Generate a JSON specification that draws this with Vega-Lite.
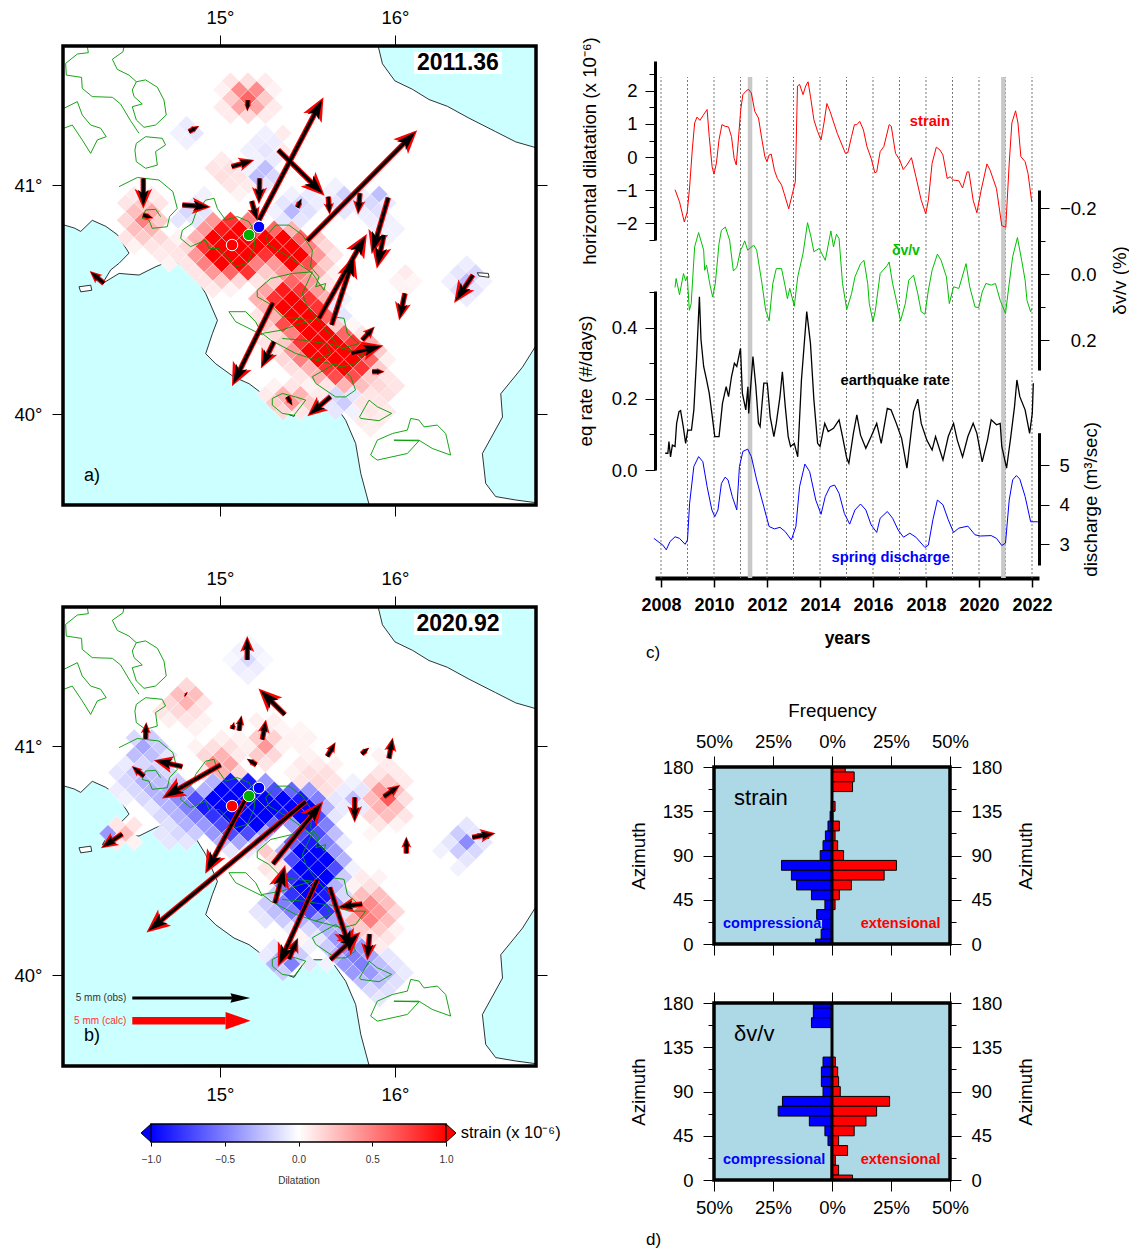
{"$schema":"https://vega.github.io/schema/vega-lite/v6.json","padding":{"left":14,"top":8,"right":0,"bottom":0},"background":"white","config":{"font":"Liberation Sans","view":{"stroke":null},"axis":{"grid":false,"domain":false,"tickColor":"black","labelColor":"black","titleColor":"black","titleFontWeight":"normal","labelFontSize":18.5,"titleFontSize":18.7,"labelOverlap":false,"labelFlush":false}},
"datasets":{
"sea":[{"type":"Feature","geometry":{"type":"Polygon","coordinates":[[[15.899,41.607],[16.806,41.607],[16.806,41.157],[16.69,41.182],[16.575,41.226],[16.423,41.284],[16.299,41.335],[16.194,41.364],[16.099,41.408],[15.999,41.444],[15.928,41.517],[15.899,41.607]]]}},{"type":"Feature","geometry":{"type":"Polygon","coordinates":[[[14.103,40.825],[14.166,40.811],[14.204,40.796],[14.27,40.844],[14.347,40.818],[14.413,40.782],[14.48,40.702],[14.423,40.658],[14.375,40.629],[14.328,40.57],[14.423,40.614],[14.537,40.607],[14.632,40.643],[14.728,40.672],[14.842,40.621],[14.918,40.527],[14.985,40.41],[14.956,40.352],[14.918,40.265],[14.975,40.221],[15.08,40.163],[15.166,40.134],[15.242,40.09],[15.299,40.024],[15.423,39.991],[15.49,40.068],[15.632,40.068],[15.718,39.974],[15.775,39.872],[15.804,39.741],[15.852,39.603],[14.103,39.603],[14.103,40.825]]]}},{"type":"Feature","geometry":{"type":"Polygon","coordinates":[[[16.806,40.301],[16.806,39.612],[16.69,39.624],[16.575,39.639],[16.518,39.697],[16.499,39.828],[16.614,39.988],[16.604,40.09],[16.728,40.206],[16.806,40.301]]]}}],
"islands":[{"type":"Feature","geometry":{"type":"Polygon","coordinates":[[[14.194,40.556],[14.261,40.563],[14.267,40.541],[14.204,40.534],[14.194,40.556]]]}},{"type":"Feature","geometry":{"type":"Polygon","coordinates":[[[16.47,40.617],[16.533,40.614],[16.537,40.597],[16.48,40.603],[16.47,40.617]]]}}],
"contours":[
{"g":"A","o":1,"x":14.242,"y":41.604},{"g":"A","o":2,"x":14.248,"y":41.578},{"g":"A","o":3,"x":14.185,"y":41.572},{"g":"A","o":4,"x":14.118,"y":41.531},{"g":"A","o":5,"x":14.122,"y":41.48},{"g":"A","o":6,"x":14.209,"y":41.47},{"g":"A","o":7,"x":14.213,"y":41.422},{"g":"A","o":8,"x":14.27,"y":41.386},{"g":"A","o":9,"x":14.385,"y":41.383},{"g":"A","o":10,"x":14.432,"y":41.354},{"g":"A","o":11,"x":14.489,"y":41.281},{"g":"A","o":12,"x":14.537,"y":41.226},
{"g":"B","o":1,"x":14.451,"y":41.604},{"g":"B","o":2,"x":14.446,"y":41.582},{"g":"B","o":3,"x":14.385,"y":41.549},{"g":"B","o":4,"x":14.413,"y":41.505},{"g":"B","o":5,"x":14.48,"y":41.48},{"g":"B","o":6,"x":14.522,"y":41.451},{"g":"B","o":7,"x":14.575,"y":41.459},{"g":"B","o":8,"x":14.642,"y":41.427},{"g":"B","o":9,"x":14.68,"y":41.371},{"g":"B","o":10,"x":14.693,"y":41.306},{"g":"B","o":11,"x":14.632,"y":41.262},{"g":"B","o":12,"x":14.566,"y":41.252},{"g":"B","o":13,"x":14.522,"y":41.284},{"g":"B","o":14,"x":14.499,"y":41.342},{"g":"B","o":15,"x":14.556,"y":41.354},{"g":"B","o":16,"x":14.509,"y":41.386},{"g":"B","o":17,"x":14.499,"y":41.415},{"g":"B","o":18,"x":14.522,"y":41.451},
{"g":"C","o":1,"x":14.108,"y":41.335},{"g":"C","o":2,"x":14.185,"y":41.364},{"g":"C","o":3,"x":14.213,"y":41.306},{"g":"C","o":4,"x":14.261,"y":41.262},{"g":"C","o":5,"x":14.318,"y":41.248},{"g":"C","o":6,"x":14.35,"y":41.211},{"g":"C","o":7,"x":14.299,"y":41.197},{"g":"C","o":8,"x":14.261,"y":41.138},{"g":"C","o":9,"x":14.213,"y":41.197},{"g":"C","o":10,"x":14.156,"y":41.262},{"g":"C","o":11,"x":14.108,"y":41.248},
{"g":"D","o":1,"x":14.522,"y":41.182},{"g":"D","o":2,"x":14.575,"y":41.211},{"g":"D","o":3,"x":14.67,"y":41.204},{"g":"D","o":4,"x":14.689,"y":41.175},{"g":"D","o":5,"x":14.632,"y":41.146},{"g":"D","o":6,"x":14.642,"y":41.087},{"g":"D","o":7,"x":14.575,"y":41.073},{"g":"D","o":8,"x":14.522,"y":41.102},{"g":"D","o":9,"x":14.514,"y":41.153},{"g":"D","o":10,"x":14.522,"y":41.182},
{"g":"E","o":1,"x":14.423,"y":40.993},{"g":"E","o":2,"x":14.528,"y":41.033},{"g":"E","o":3,"x":14.651,"y":41.022},{"g":"E","o":4,"x":14.731,"y":40.971},{"g":"E","o":5,"x":14.756,"y":40.898},{"g":"E","o":6,"x":14.712,"y":40.862},{"g":"E","o":7,"x":14.699,"y":40.818},{"g":"E","o":8,"x":14.613,"y":40.811},{"g":"E","o":9,"x":14.594,"y":40.847},{"g":"E","o":10,"x":14.556,"y":40.854},{"g":"E","o":11,"x":14.575,"y":40.891},{"g":"E","o":12,"x":14.632,"y":40.894},{"g":"E","o":13,"x":14.661,"y":40.862},
{"g":"F","o":1,"x":14.785,"y":40.803},{"g":"F","o":2,"x":14.842,"y":40.833},{"g":"F","o":3,"x":14.861,"y":40.876},{"g":"F","o":4,"x":14.918,"y":40.934},{"g":"F","o":5,"x":14.966,"y":40.942},{"g":"F","o":6,"x":14.985,"y":40.898},{"g":"F","o":7,"x":15.032,"y":40.847},{"g":"F","o":8,"x":15.099,"y":40.862},{"g":"F","o":9,"x":15.166,"y":40.84},{"g":"F","o":10,"x":15.204,"y":40.789},{"g":"F","o":11,"x":15.194,"y":40.723},{"g":"F","o":12,"x":15.156,"y":40.658},{"g":"F","o":13,"x":15.09,"y":40.643},{"g":"F","o":14,"x":15.042,"y":40.687},{"g":"F","o":15,"x":14.994,"y":40.723},{"g":"F","o":16,"x":14.937,"y":40.723},{"g":"F","o":17,"x":14.918,"y":40.76},{"g":"F","o":18,"x":14.832,"y":40.731},{"g":"F","o":19,"x":14.775,"y":40.767},{"g":"F","o":20,"x":14.785,"y":40.803},
{"g":"G","o":1,"x":15.261,"y":40.774},{"g":"G","o":2,"x":15.318,"y":40.825},{"g":"G","o":3,"x":15.394,"y":40.825},{"g":"G","o":4,"x":15.471,"y":40.782},{"g":"G","o":5,"x":15.528,"y":40.716},{"g":"G","o":6,"x":15.518,"y":40.643},{"g":"G","o":7,"x":15.566,"y":40.6},{"g":"G","o":8,"x":15.547,"y":40.556},{"g":"G","o":9,"x":15.604,"y":40.57},{"g":"G","o":10,"x":15.594,"y":40.541},{"g":"G","o":11,"x":15.528,"y":40.614},{"g":"G","o":12,"x":15.394,"y":40.687},{"g":"G","o":13,"x":15.28,"y":40.738},{"g":"G","o":14,"x":15.261,"y":40.774},
{"g":"H","o":1,"x":15.213,"y":40.541},{"g":"H","o":2,"x":15.29,"y":40.592},{"g":"H","o":3,"x":15.413,"y":40.614},{"g":"H","o":4,"x":15.528,"y":40.621},{"g":"H","o":5,"x":15.471,"y":40.527},{"g":"H","o":6,"x":15.49,"y":40.483},{"g":"H","o":7,"x":15.528,"y":40.439},{"g":"H","o":8,"x":15.623,"y":40.352},{"g":"H","o":9,"x":15.68,"y":40.294},{"g":"H","o":10,"x":15.737,"y":40.279},{"g":"H","o":11,"x":15.832,"y":40.279},{"g":"H","o":12,"x":15.775,"y":40.221},{"g":"H","o":13,"x":15.699,"y":40.206},{"g":"H","o":14,"x":15.547,"y":40.236},{"g":"H","o":15,"x":15.432,"y":40.265},{"g":"H","o":16,"x":15.29,"y":40.323},{"g":"H","o":17,"x":15.242,"y":40.352},{"g":"H","o":18,"x":15.356,"y":40.367},{"g":"H","o":19,"x":15.432,"y":40.388},{"g":"H","o":20,"x":15.528,"y":40.41},{"g":"H","o":21,"x":15.356,"y":40.425},{"g":"H","o":22,"x":15.28,"y":40.483},{"g":"H","o":23,"x":15.213,"y":40.512},{"g":"H","o":24,"x":15.213,"y":40.541},
{"g":"I","o":1,"x":15.051,"y":40.447},{"g":"I","o":2,"x":15.147,"y":40.447},{"g":"I","o":3,"x":15.204,"y":40.403},{"g":"I","o":4,"x":15.242,"y":40.345},{"g":"I","o":5,"x":15.166,"y":40.374},{"g":"I","o":6,"x":15.09,"y":40.403},{"g":"I","o":7,"x":15.051,"y":40.447},
{"g":"J","o":1,"x":15.528,"y":40.163},{"g":"J","o":2,"x":15.661,"y":40.221},{"g":"J","o":3,"x":15.747,"y":40.163},{"g":"J","o":4,"x":15.775,"y":40.105},{"g":"J","o":5,"x":15.718,"y":40.075},{"g":"J","o":6,"x":15.661,"y":40.075},{"g":"J","o":7,"x":15.547,"y":40.134},{"g":"J","o":8,"x":15.528,"y":40.163},
{"g":"K","o":1,"x":15.299,"y":40.068},{"g":"K","o":2,"x":15.356,"y":40.09},{"g":"K","o":3,"x":15.432,"y":40.075},{"g":"K","o":4,"x":15.49,"y":40.061},{"g":"K","o":5,"x":15.423,"y":39.995},{"g":"K","o":6,"x":15.356,"y":40.003},{"g":"K","o":7,"x":15.299,"y":40.039},{"g":"K","o":8,"x":15.299,"y":40.068},
{"g":"M","o":1,"x":15.798,"y":39.988},{"g":"M","o":2,"x":15.852,"y":40.061},{"g":"M","o":3,"x":15.899,"y":40.032},{"g":"M","o":4,"x":15.981,"y":40.003},{"g":"M","o":5,"x":15.909,"y":39.971},{"g":"M","o":6,"x":15.804,"y":39.981},{"g":"M","o":7,"x":15.798,"y":39.988},
{"g":"N","o":1,"x":15.861,"y":39.821},{"g":"N","o":2,"x":15.899,"y":39.886},{"g":"N","o":3,"x":15.985,"y":39.915},{"g":"N","o":4,"x":16.071,"y":39.93},{"g":"N","o":5,"x":16.09,"y":39.981},{"g":"N","o":6,"x":16.137,"y":39.974},{"g":"N","o":7,"x":16.166,"y":39.944},{"g":"N","o":8,"x":16.242,"y":39.952},{"g":"N","o":9,"x":16.29,"y":39.915},{"g":"N","o":10,"x":16.318,"y":39.821},{"g":"N","o":11,"x":16.213,"y":39.85},{"g":"N","o":12,"x":16.137,"y":39.886},{"g":"N","o":13,"x":15.994,"y":39.886},{"g":"N","o":14,"x":16.137,"y":39.883},{"g":"N","o":15,"x":16.071,"y":39.828},{"g":"N","o":16,"x":15.899,"y":39.799},{"g":"N","o":17,"x":15.861,"y":39.821},
{"g":"P","o":1,"x":15.642,"y":40.425},{"g":"P","o":2,"x":15.709,"y":40.418},{"g":"P","o":3,"x":15.728,"y":40.352},{"g":"P","o":4,"x":15.794,"y":40.308},{"g":"P","o":5,"x":15.699,"y":40.287},{"g":"P","o":6,"x":15.623,"y":40.308},
{"g":"Q","o":1,"x":15.356,"y":40.33},{"g":"Q","o":2,"x":15.471,"y":40.323},{"g":"Q","o":3,"x":15.604,"y":40.308},{"g":"Q","o":4,"x":15.632,"y":40.265},{"g":"Q","o":5,"x":15.547,"y":40.236}],
"sites":[{"x":15.069,"y":40.738,"c":"r"},{"x":15.166,"y":40.782,"c":"g"},{"x":15.223,"y":40.817,"c":"b"}],
"arrowsA":[{"x":15.16,"y":41.371,"x2":15.158,"y2":41.345,"az":184,"mm":0.45},{"x":14.823,"y":41.233,"x2":14.853,"y2":41.246,"az":61,"mm":0.47},{"x":15.067,"y":41.08,"x2":15.133,"y2":41.095,"az":74,"mm":0.94},{"x":14.562,"y":41.029,"x2":14.562,"y2":40.961,"az":180,"mm":1.2},{"x":14.56,"y":40.869,"x2":14.59,"y2":40.862,"az":108,"mm":0.45},{"x":14.785,"y":40.913,"x2":14.869,"y2":40.908,"az":94,"mm":1.13},{"x":15.227,"y":41.029,"x2":15.225,"y2":40.971,"az":182,"mm":1.03},{"x":15.181,"y":40.93,"x2":15.198,"y2":40.885,"az":163,"mm":0.84},{"x":15.223,"y":40.847,"x2":15.545,"y2":41.316,"az":28,"mm":5.8},{"x":15.333,"y":41.153,"x2":15.528,"y2":41.007,"az":135,"mm":2.7},{"x":15.619,"y":40.949,"x2":15.623,"y2":40.908,"az":175,"mm":0.71},{"x":15.499,"y":40.757,"x2":16.057,"y2":41.186,"az":45,"mm":6.5},{"x":15.8,"y":40.964,"x2":15.794,"y2":40.916,"az":185,"mm":0.85},{"x":15.962,"y":40.945,"x2":15.895,"y2":40.771,"az":197,"mm":2.4},{"x":15.937,"y":40.782,"x2":15.916,"y2":40.706,"az":192,"mm":1.37},{"x":15.442,"y":40.902,"x2":15.455,"y2":40.923,"az":26,"mm":0.39},{"x":15.566,"y":40.418,"x2":15.79,"y2":40.721,"az":30,"mm":4},{"x":15.638,"y":40.389,"x2":15.739,"y2":40.624,"az":18,"mm":3},{"x":15.303,"y":40.486,"x2":15.112,"y2":40.189,"az":206,"mm":3.8},{"x":15.309,"y":40.316,"x2":15.27,"y2":40.256,"az":206,"mm":1.18},{"x":15.813,"y":40.323,"x2":15.85,"y2":40.354,"az":43,"mm":0.73},{"x":15.752,"y":40.265,"x2":15.846,"y2":40.282,"az":76,"mm":1.3},{"x":15.87,"y":40.185,"x2":15.907,"y2":40.185,"az":90,"mm":0.49},{"x":16.446,"y":40.607,"x2":16.39,"y2":40.544,"az":214,"mm":1.32},{"x":16.057,"y":40.527,"x2":16.04,"y2":40.466,"az":192,"mm":1.1},{"x":15.385,"y":40.076,"x2":15.4,"y2":40.055,"az":149,"mm":0.41},{"x":15.632,"y":40.076,"x2":15.564,"y2":40.032,"az":230,"mm":1.2},{"x":14.337,"y":40.571,"x2":14.295,"y2":40.598,"az":311,"mm":0.75}],
"arrowsB":[{"x":15.156,"y":41.376,"x2":15.156,"y2":41.429,"az":0,"mm":0.96},{"x":14.808,"y":41.224,"x2":14.802,"y2":41.227,"az":309,"mm":0.1},{"x":15.371,"y":41.137,"x2":15.29,"y2":41.198,"az":315,"mm":1.5},{"x":14.575,"y":41.031,"x2":14.577,"y2":41.068,"az":2,"mm":0.68},{"x":15.07,"y":41.074,"x2":15.076,"y2":41.09,"az":14,"mm":0.3},{"x":15.109,"y":41.067,"x2":15.116,"y2":41.102,"az":10,"mm":0.62},{"x":15.242,"y":41.028,"x2":15.253,"y2":41.073,"az":10,"mm":0.82},{"x":14.785,"y":40.91,"x2":14.701,"y2":40.924,"az":283,"mm":1.16},{"x":15.004,"y":40.918,"x2":14.754,"y2":40.809,"az":240,"mm":2.8},{"x":14.566,"y":40.868,"x2":14.53,"y2":40.891,"az":310,"mm":0.64},{"x":15.208,"y":40.918,"x2":15.179,"y2":40.932,"az":302,"mm":0.45},{"x":15.613,"y":40.955,"x2":15.638,"y2":40.987,"az":30,"mm":0.65},{"x":15.81,"y":40.965,"x2":15.832,"y2":40.98,"az":51,"mm":0.4},{"x":15.966,"y":40.946,"x2":15.977,"y2":40.993,"az":10,"mm":0.83},{"x":15.937,"y":40.779,"x2":15.985,"y2":40.805,"az":54,"mm":0.79},{"x":15.77,"y":40.776,"x2":15.77,"y2":40.719,"az":180,"mm":1},{"x":16.065,"y":40.531,"x2":16.065,"y2":40.569,"az":0,"mm":0.68},{"x":16.442,"y":40.601,"x2":16.511,"y2":40.611,"az":80,"mm":0.93},{"x":15.147,"y":40.769,"x2":14.962,"y2":40.509,"az":208,"mm":3.5},{"x":15.49,"y":40.757,"x2":14.657,"y2":40.234,"az":231,"mm":8.6},{"x":15.303,"y":40.485,"x2":15.528,"y2":40.7,"az":39,"mm":3.3},{"x":15.314,"y":40.314,"x2":15.347,"y2":40.408,"az":15,"mm":1.57},{"x":15.556,"y":40.416,"x2":15.371,"y2":40.105,"az":204,"mm":4},{"x":15.394,"y":40.07,"x2":15.421,"y2":40.118,"az":23,"mm":0.92},{"x":15.627,"y":40.383,"x2":15.72,"y2":40.169,"az":162,"mm":2.8},{"x":15.632,"y":40.067,"x2":15.731,"y2":40.137,"az":47,"mm":1.64},{"x":15.813,"y":40.31,"x2":15.741,"y2":40.303,"az":262,"mm":1},{"x":15.855,"y":40.179,"x2":15.848,"y2":40.119,"az":185,"mm":1.06},{"x":14.442,"y":40.616,"x2":14.379,"y2":40.584,"az":236,"mm":1.02}],
"cellsA":[{"x":15.06,"y":41.454,"d":0.1},{"x":15.16,"y":41.454,"d":0.12},{"x":15.26,"y":41.454,"d":0.08},{"x":15.01,"y":41.416,"d":0.05},{"x":15.11,"y":41.416,"d":0.45},{"x":15.21,"y":41.416,"d":0.45},{"x":15.31,"y":41.416,"d":0.05},{"x":15.06,"y":41.378,"d":0.2},{"x":15.16,"y":41.378,"d":0.6},{"x":15.26,"y":41.378,"d":0.2},{"x":15.01,"y":41.34,"d":0.08},{"x":15.11,"y":41.34,"d":0.35},{"x":15.21,"y":41.34,"d":0.35},{"x":15.31,"y":41.34,"d":0.08},{"x":15.06,"y":41.302,"d":0.08},{"x":15.16,"y":41.302,"d":0.15},{"x":15.26,"y":41.302,"d":0.08},{"x":14.81,"y":41.264,"d":-0.08},{"x":14.86,"y":41.226,"d":-0.1},{"x":14.76,"y":41.226,"d":-0.05},{"x":15.26,"y":41.226,"d":-0.06},{"x":15.36,"y":41.226,"d":0.08},{"x":14.81,"y":41.188,"d":-0.06},{"x":15.21,"y":41.188,"d":-0.07},{"x":15.31,"y":41.188,"d":-0.07},{"x":15.16,"y":41.15,"d":-0.06},{"x":15.26,"y":41.15,"d":-0.1},{"x":15.36,"y":41.15,"d":0.08},{"x":15.21,"y":41.112,"d":-0.05},{"x":15.31,"y":41.112,"d":-0.08},{"x":15.01,"y":41.112,"d":0.08},{"x":15.16,"y":41.074,"d":-0.05},{"x":15.26,"y":41.074,"d":-0.25},{"x":14.96,"y":41.074,"d":0.1},{"x":15.06,"y":41.074,"d":0.12},{"x":15.21,"y":41.036,"d":-0.25},{"x":15.31,"y":41.036,"d":-0.15},{"x":15.01,"y":41.036,"d":0.12},{"x":15.11,"y":41.036,"d":0.1},{"x":15.16,"y":40.998,"d":0.08},{"x":15.26,"y":40.998,"d":-0.1},{"x":15.06,"y":40.998,"d":0.1},{"x":15.66,"y":40.998,"d":-0.05},{"x":15.11,"y":40.96,"d":0.05},{"x":15.41,"y":40.96,"d":-0.06},{"x":15.51,"y":40.96,"d":-0.08},{"x":15.61,"y":40.96,"d":-0.06},{"x":15.71,"y":40.96,"d":-0.18},{"x":15.81,"y":40.96,"d":-0.06},{"x":15.91,"y":40.96,"d":-0.25},{"x":14.91,"y":40.96,"d":-0.05},{"x":14.51,"y":40.96,"d":0.08},{"x":14.61,"y":40.96,"d":0.08},{"x":15.36,"y":40.922,"d":-0.1},{"x":15.46,"y":40.922,"d":-0.15},{"x":15.56,"y":40.922,"d":-0.07},{"x":15.66,"y":40.922,"d":-0.1},{"x":15.76,"y":40.922,"d":-0.1},{"x":15.86,"y":40.922,"d":-0.15},{"x":15.96,"y":40.922,"d":-0.08},{"x":14.86,"y":40.922,"d":-0.08},{"x":14.46,"y":40.922,"d":0.1},{"x":14.56,"y":40.922,"d":0.2},{"x":14.66,"y":40.922,"d":0.1},{"x":15.31,"y":40.884,"d":-0.05},{"x":15.41,"y":40.884,"d":-0.28},{"x":15.51,"y":40.884,"d":-0.12},{"x":15.71,"y":40.884,"d":-0.1},{"x":15.81,"y":40.884,"d":-0.07},{"x":15.91,"y":40.884,"d":-0.12},{"x":14.81,"y":40.884,"d":-0.15},{"x":14.91,"y":40.884,"d":-0.1},{"x":14.51,"y":40.884,"d":0.25},{"x":14.61,"y":40.884,"d":0.35},{"x":15.36,"y":40.846,"d":-0.1},{"x":15.46,"y":40.846,"d":-0.1},{"x":15.86,"y":40.846,"d":-0.07},{"x":15.96,"y":40.846,"d":-0.06},{"x":14.76,"y":40.846,"d":-0.1},{"x":14.86,"y":40.846,"d":-0.1},{"x":14.46,"y":40.846,"d":0.15},{"x":14.56,"y":40.846,"d":0.5},{"x":14.66,"y":40.846,"d":0.2},{"x":15.06,"y":40.846,"d":0.8},{"x":15.16,"y":40.846,"d":0.5},{"x":14.96,"y":40.846,"d":0.4},{"x":14.51,"y":40.808,"d":0.25},{"x":14.61,"y":40.808,"d":0.3},{"x":14.91,"y":40.808,"d":0.4},{"x":15.01,"y":40.808,"d":0.9},{"x":15.11,"y":40.808,"d":1},{"x":15.21,"y":40.808,"d":0.7},{"x":15.31,"y":40.808,"d":0.6},{"x":15.41,"y":40.808,"d":0.3},{"x":15.91,"y":40.808,"d":-0.06},{"x":16.01,"y":40.808,"d":-0.05},{"x":14.46,"y":40.77,"d":0.1},{"x":14.56,"y":40.77,"d":0.2},{"x":14.66,"y":40.77,"d":0.15},{"x":14.76,"y":40.77,"d":0.05},{"x":14.86,"y":40.77,"d":0.3},{"x":14.96,"y":40.77,"d":1},{"x":15.06,"y":40.77,"d":1},{"x":15.16,"y":40.77,"d":1},{"x":15.26,"y":40.77,"d":1},{"x":15.36,"y":40.77,"d":1},{"x":15.46,"y":40.77,"d":0.6},{"x":15.56,"y":40.77,"d":0.2},{"x":15.86,"y":40.77,"d":-0.05},{"x":15.96,"y":40.77,"d":-0.05},{"x":14.51,"y":40.732,"d":0.05},{"x":14.61,"y":40.732,"d":0.1},{"x":14.71,"y":40.732,"d":0.1},{"x":14.81,"y":40.732,"d":0.15},{"x":14.91,"y":40.732,"d":0.8},{"x":15.01,"y":40.732,"d":1},{"x":15.11,"y":40.732,"d":1},{"x":15.21,"y":40.732,"d":1},{"x":15.31,"y":40.732,"d":1},{"x":15.41,"y":40.732,"d":1},{"x":15.51,"y":40.732,"d":0.5},{"x":15.61,"y":40.732,"d":0.15},{"x":14.66,"y":40.694,"d":0.08},{"x":14.76,"y":40.694,"d":0.1},{"x":14.86,"y":40.694,"d":0.4},{"x":14.96,"y":40.694,"d":1},{"x":15.06,"y":40.694,"d":1},{"x":15.16,"y":40.694,"d":1},{"x":15.26,"y":40.694,"d":0.8},{"x":15.36,"y":40.694,"d":1},{"x":15.46,"y":40.694,"d":1},{"x":15.56,"y":40.694,"d":0.4},{"x":15.66,"y":40.694,"d":0.1},{"x":14.71,"y":40.656,"d":0.05},{"x":14.81,"y":40.656,"d":0.1},{"x":14.91,"y":40.656,"d":0.5},{"x":15.01,"y":40.656,"d":1},{"x":15.11,"y":40.656,"d":1},{"x":15.21,"y":40.656,"d":0.5},{"x":15.31,"y":40.656,"d":0.4},{"x":15.41,"y":40.656,"d":1},{"x":15.51,"y":40.656,"d":0.7},{"x":15.61,"y":40.656,"d":0.2},{"x":14.86,"y":40.618,"d":0.1},{"x":14.96,"y":40.618,"d":0.4},{"x":15.06,"y":40.618,"d":0.6},{"x":15.16,"y":40.618,"d":0.8},{"x":15.26,"y":40.618,"d":0.2},{"x":15.36,"y":40.618,"d":0.4},{"x":15.46,"y":40.618,"d":0.5},{"x":15.56,"y":40.618,"d":0.3},{"x":15.66,"y":40.618,"d":0.05},{"x":16.06,"y":40.618,"d":0.08},{"x":16.36,"y":40.618,"d":-0.1},{"x":16.46,"y":40.618,"d":-0.15},{"x":16.41,"y":40.656,"d":-0.07},{"x":14.91,"y":40.58,"d":0.1},{"x":15.01,"y":40.58,"d":0.2},{"x":15.11,"y":40.58,"d":0.15},{"x":15.21,"y":40.58,"d":0.1},{"x":15.31,"y":40.58,"d":0.2},{"x":15.41,"y":40.58,"d":0.6},{"x":15.51,"y":40.58,"d":0.4},{"x":15.61,"y":40.58,"d":0.1},{"x":16.01,"y":40.58,"d":0.05},{"x":16.11,"y":40.58,"d":0.04},{"x":16.31,"y":40.58,"d":-0.06},{"x":16.41,"y":40.58,"d":-0.25},{"x":16.51,"y":40.58,"d":-0.06},{"x":14.96,"y":40.542,"d":0.08},{"x":15.06,"y":40.542,"d":0.05},{"x":15.26,"y":40.542,"d":0.35},{"x":15.36,"y":40.542,"d":0.9},{"x":15.46,"y":40.542,"d":0.8},{"x":15.56,"y":40.542,"d":0.4},{"x":15.66,"y":40.542,"d":0.1},{"x":16.06,"y":40.542,"d":0.05},{"x":16.36,"y":40.542,"d":-0.12},{"x":16.46,"y":40.542,"d":-0.1},{"x":15.21,"y":40.504,"d":0.3},{"x":15.31,"y":40.504,"d":0.8},{"x":15.41,"y":40.504,"d":1},{"x":15.51,"y":40.504,"d":0.8},{"x":15.61,"y":40.504,"d":0.3},{"x":15.71,"y":40.504,"d":-0.05},{"x":16.41,"y":40.504,"d":-0.07},{"x":15.26,"y":40.466,"d":0.3},{"x":15.36,"y":40.466,"d":1},{"x":15.46,"y":40.466,"d":1},{"x":15.56,"y":40.466,"d":0.8},{"x":15.66,"y":40.466,"d":-0.08},{"x":15.21,"y":40.428,"d":0.1},{"x":15.31,"y":40.428,"d":0.3},{"x":15.41,"y":40.428,"d":1},{"x":15.51,"y":40.428,"d":1},{"x":15.61,"y":40.428,"d":0.6},{"x":15.71,"y":40.428,"d":-0.1},{"x":15.26,"y":40.39,"d":0.2},{"x":15.36,"y":40.39,"d":0.7},{"x":15.46,"y":40.39,"d":1},{"x":15.56,"y":40.39,"d":1},{"x":15.66,"y":40.39,"d":0.2},{"x":15.76,"y":40.39,"d":0.03},{"x":15.31,"y":40.352,"d":0.15},{"x":15.41,"y":40.352,"d":0.5},{"x":15.51,"y":40.352,"d":1},{"x":15.61,"y":40.352,"d":1},{"x":15.71,"y":40.352,"d":0.6},{"x":15.81,"y":40.352,"d":0.1},{"x":15.26,"y":40.314,"d":0.1},{"x":15.36,"y":40.314,"d":0.2},{"x":15.46,"y":40.314,"d":0.8},{"x":15.56,"y":40.314,"d":1},{"x":15.66,"y":40.314,"d":1},{"x":15.76,"y":40.314,"d":0.8},{"x":15.86,"y":40.314,"d":0.3},{"x":15.31,"y":40.276,"d":0.1},{"x":15.41,"y":40.276,"d":0.4},{"x":15.51,"y":40.276,"d":1},{"x":15.61,"y":40.276,"d":1},{"x":15.71,"y":40.276,"d":1},{"x":15.81,"y":40.276,"d":1},{"x":15.91,"y":40.276,"d":0.2},{"x":15.36,"y":40.238,"d":0.15},{"x":15.46,"y":40.238,"d":0.5},{"x":15.56,"y":40.238,"d":1},{"x":15.66,"y":40.238,"d":1},{"x":15.76,"y":40.238,"d":1},{"x":15.86,"y":40.238,"d":0.6},{"x":15.96,"y":40.238,"d":0.06},{"x":15.41,"y":40.2,"d":0.12},{"x":15.51,"y":40.2,"d":0.3},{"x":15.61,"y":40.2,"d":0.8},{"x":15.71,"y":40.2,"d":1},{"x":15.81,"y":40.2,"d":0.8},{"x":15.91,"y":40.2,"d":0.2},{"x":15.46,"y":40.162,"d":0.1},{"x":15.56,"y":40.162,"d":0.3},{"x":15.66,"y":40.162,"d":0.7},{"x":15.76,"y":40.162,"d":0.7},{"x":15.86,"y":40.162,"d":0.2},{"x":15.96,"y":40.162,"d":0.1},{"x":15.31,"y":40.124,"d":0.05},{"x":15.41,"y":40.124,"d":0.1},{"x":15.51,"y":40.124,"d":0.05},{"x":15.61,"y":40.124,"d":0.1},{"x":15.71,"y":40.124,"d":0.3},{"x":15.81,"y":40.124,"d":0.25},{"x":15.91,"y":40.124,"d":0.15},{"x":16.01,"y":40.124,"d":0.1},{"x":15.26,"y":40.086,"d":0.08},{"x":15.36,"y":40.086,"d":0.3},{"x":15.46,"y":40.086,"d":0.3},{"x":15.56,"y":40.086,"d":0.08},{"x":15.66,"y":40.086,"d":-0.15},{"x":15.76,"y":40.086,"d":-0.1},{"x":15.86,"y":40.086,"d":0.1},{"x":15.96,"y":40.086,"d":0.12},{"x":15.31,"y":40.048,"d":0.2},{"x":15.41,"y":40.048,"d":0.4},{"x":15.51,"y":40.048,"d":0.2},{"x":15.61,"y":40.048,"d":-0.1},{"x":15.71,"y":40.048,"d":-0.2},{"x":15.81,"y":40.048,"d":0.1},{"x":15.91,"y":40.048,"d":0.1},{"x":15.36,"y":40.01,"d":0.15},{"x":15.46,"y":40.01,"d":0.1},{"x":15.66,"y":40.01,"d":-0.1},{"x":15.76,"y":40.01,"d":-0.05},{"x":15.86,"y":40.01,"d":0.1},{"x":15.96,"y":40.01,"d":0.08},{"x":15.81,"y":39.972,"d":0.08},{"x":15.91,"y":39.972,"d":0.08},{"x":15.86,"y":39.934,"d":0.06}],
"cellsB":[{"x":15.16,"y":41.454,"d":-0.03},{"x":15.11,"y":41.416,"d":-0.05},{"x":15.21,"y":41.416,"d":-0.05},{"x":15.06,"y":41.378,"d":-0.03},{"x":15.16,"y":41.378,"d":-0.15},{"x":15.26,"y":41.378,"d":-0.03},{"x":15.11,"y":41.34,"d":-0.07},{"x":15.21,"y":41.34,"d":-0.07},{"x":15.16,"y":41.302,"d":-0.05},{"x":14.81,"y":41.264,"d":0.15},{"x":14.76,"y":41.226,"d":0.25},{"x":14.86,"y":41.226,"d":0.25},{"x":14.71,"y":41.188,"d":0.15},{"x":14.81,"y":41.188,"d":0.3},{"x":14.91,"y":41.188,"d":0.1},{"x":14.66,"y":41.15,"d":0.1},{"x":14.76,"y":41.15,"d":0.15},{"x":14.86,"y":41.15,"d":0.12},{"x":14.71,"y":41.112,"d":0.06},{"x":14.81,"y":41.112,"d":0.1},{"x":14.91,"y":41.112,"d":0.05},{"x":15.21,"y":41.112,"d":0.06},{"x":15.31,"y":41.112,"d":0.06},{"x":14.86,"y":41.074,"d":0.05},{"x":15.26,"y":41.074,"d":0.08},{"x":15.36,"y":41.074,"d":0.04},{"x":15.46,"y":41.074,"d":0.04},{"x":15.01,"y":41.036,"d":0.06},{"x":15.11,"y":41.036,"d":0.05},{"x":15.21,"y":41.036,"d":0.2},{"x":15.31,"y":41.036,"d":0.18},{"x":15.41,"y":41.036,"d":0.05},{"x":15.51,"y":41.036,"d":0.05},{"x":14.56,"y":40.998,"d":-0.35},{"x":14.66,"y":40.998,"d":-0.2},{"x":14.86,"y":40.998,"d":0.05},{"x":14.96,"y":40.998,"d":0.12},{"x":15.06,"y":40.998,"d":0.12},{"x":15.16,"y":40.998,"d":0.06},{"x":15.26,"y":40.998,"d":0.4},{"x":15.36,"y":40.998,"d":0.05},{"x":15.46,"y":40.998,"d":0.05},{"x":14.51,"y":41.036,"d":-0.15},{"x":14.61,"y":41.036,"d":-0.2},{"x":14.51,"y":40.96,"d":-0.25},{"x":14.61,"y":40.96,"d":-0.25},{"x":14.71,"y":40.96,"d":-0.1},{"x":14.91,"y":40.96,"d":0.15},{"x":15.01,"y":40.96,"d":0.3},{"x":15.11,"y":40.96,"d":0.08},{"x":15.21,"y":40.96,"d":0.2},{"x":15.31,"y":40.96,"d":0.15},{"x":15.51,"y":40.96,"d":0.05},{"x":15.91,"y":40.96,"d":0.05},{"x":14.46,"y":40.922,"d":-0.08},{"x":14.56,"y":40.922,"d":-0.15},{"x":14.66,"y":40.922,"d":-0.15},{"x":14.96,"y":40.922,"d":0.45},{"x":15.06,"y":40.922,"d":0.35},{"x":15.26,"y":40.922,"d":0.1},{"x":15.46,"y":40.922,"d":0.08},{"x":15.56,"y":40.922,"d":0.08},{"x":15.66,"y":40.922,"d":0.05},{"x":15.96,"y":40.922,"d":0.08},{"x":14.41,"y":40.884,"d":-0.1},{"x":14.51,"y":40.884,"d":-0.2},{"x":14.61,"y":40.884,"d":-0.25},{"x":14.71,"y":40.884,"d":-0.15},{"x":14.91,"y":40.884,"d":0.1},{"x":15.01,"y":40.884,"d":0.3},{"x":15.11,"y":40.884,"d":0.15},{"x":15.41,"y":40.884,"d":0.05},{"x":15.51,"y":40.884,"d":0.12},{"x":15.61,"y":40.884,"d":0.12},{"x":15.91,"y":40.884,"d":0.1},{"x":16.01,"y":40.884,"d":0.08},{"x":14.46,"y":40.846,"d":-0.15},{"x":14.56,"y":40.846,"d":-0.3},{"x":14.66,"y":40.846,"d":-0.25},{"x":14.76,"y":40.846,"d":-0.2},{"x":14.96,"y":40.846,"d":-0.3},{"x":15.06,"y":40.846,"d":-0.9},{"x":15.16,"y":40.846,"d":-0.9},{"x":15.26,"y":40.846,"d":-0.4},{"x":15.46,"y":40.846,"d":0.1},{"x":15.56,"y":40.846,"d":0.15},{"x":15.66,"y":40.846,"d":0.1},{"x":15.76,"y":40.846,"d":-0.05},{"x":15.86,"y":40.846,"d":0.15},{"x":15.96,"y":40.846,"d":0.2},{"x":16.06,"y":40.846,"d":0.08},{"x":14.41,"y":40.808,"d":-0.07},{"x":14.51,"y":40.808,"d":-0.15},{"x":14.61,"y":40.808,"d":-0.3},{"x":14.71,"y":40.808,"d":-0.3},{"x":14.81,"y":40.808,"d":-0.4},{"x":14.91,"y":40.808,"d":-0.3},{"x":15.01,"y":40.808,"d":-1},{"x":15.11,"y":40.808,"d":-1},{"x":15.21,"y":40.808,"d":-1},{"x":15.31,"y":40.808,"d":-0.7},{"x":15.41,"y":40.808,"d":-0.6},{"x":15.51,"y":40.808,"d":-0.4},{"x":15.61,"y":40.808,"d":0.12},{"x":15.71,"y":40.808,"d":-0.07},{"x":15.81,"y":40.808,"d":-0.1},{"x":15.91,"y":40.808,"d":0.4},{"x":16.01,"y":40.808,"d":0.25},{"x":14.46,"y":40.77,"d":-0.05},{"x":14.56,"y":40.77,"d":-0.15},{"x":14.66,"y":40.77,"d":-0.3},{"x":14.76,"y":40.77,"d":-0.45},{"x":14.86,"y":40.77,"d":-0.7},{"x":14.96,"y":40.77,"d":-1},{"x":15.06,"y":40.77,"d":-1},{"x":15.16,"y":40.77,"d":-1},{"x":15.26,"y":40.77,"d":-1},{"x":15.36,"y":40.77,"d":-1},{"x":15.46,"y":40.77,"d":-0.9},{"x":15.56,"y":40.77,"d":-0.5},{"x":15.66,"y":40.77,"d":-0.1},{"x":15.76,"y":40.77,"d":-0.25},{"x":15.86,"y":40.77,"d":0.25},{"x":15.96,"y":40.77,"d":0.65},{"x":16.06,"y":40.77,"d":0.12},{"x":14.61,"y":40.732,"d":-0.1},{"x":14.71,"y":40.732,"d":-0.3},{"x":14.81,"y":40.732,"d":-0.5},{"x":14.91,"y":40.732,"d":-0.9},{"x":15.01,"y":40.732,"d":-1},{"x":15.11,"y":40.732,"d":-1},{"x":15.21,"y":40.732,"d":-1},{"x":15.31,"y":40.732,"d":-1},{"x":15.41,"y":40.732,"d":-1},{"x":15.51,"y":40.732,"d":-1},{"x":15.61,"y":40.732,"d":-0.3},{"x":15.71,"y":40.732,"d":-0.08},{"x":15.81,"y":40.732,"d":-0.08},{"x":15.91,"y":40.732,"d":0.3},{"x":16.01,"y":40.732,"d":0.25},{"x":14.66,"y":40.694,"d":-0.15},{"x":14.76,"y":40.694,"d":-0.3},{"x":14.86,"y":40.694,"d":-0.5},{"x":14.96,"y":40.694,"d":-0.8},{"x":15.06,"y":40.694,"d":-1},{"x":15.16,"y":40.694,"d":-1},{"x":15.26,"y":40.694,"d":-1},{"x":15.36,"y":40.694,"d":-0.9},{"x":15.46,"y":40.694,"d":-1},{"x":15.56,"y":40.694,"d":-0.7},{"x":15.66,"y":40.694,"d":-0.1},{"x":15.86,"y":40.694,"d":0.15},{"x":15.96,"y":40.694,"d":0.25},{"x":16.06,"y":40.694,"d":0.1},{"x":14.71,"y":40.656,"d":-0.12},{"x":14.81,"y":40.656,"d":-0.3},{"x":14.91,"y":40.656,"d":-0.4},{"x":15.01,"y":40.656,"d":-0.7},{"x":15.11,"y":40.656,"d":-1},{"x":15.21,"y":40.656,"d":-1},{"x":15.31,"y":40.656,"d":-0.6},{"x":15.41,"y":40.656,"d":-0.4},{"x":15.51,"y":40.656,"d":-0.9},{"x":15.61,"y":40.656,"d":-0.5},{"x":15.91,"y":40.656,"d":0.1},{"x":16.01,"y":40.656,"d":0.05},{"x":14.41,"y":40.656,"d":0.1},{"x":14.51,"y":40.656,"d":0.1},{"x":16.41,"y":40.656,"d":-0.1},{"x":14.36,"y":40.618,"d":-0.4},{"x":14.46,"y":40.618,"d":0.25},{"x":14.66,"y":40.618,"d":-0.1},{"x":14.76,"y":40.618,"d":-0.15},{"x":14.86,"y":40.618,"d":-0.2},{"x":14.96,"y":40.618,"d":-0.4},{"x":15.06,"y":40.618,"d":-0.7},{"x":15.16,"y":40.618,"d":-0.7},{"x":15.26,"y":40.618,"d":-0.35},{"x":15.46,"y":40.618,"d":-0.7},{"x":15.56,"y":40.618,"d":-0.7},{"x":15.66,"y":40.618,"d":-0.25},{"x":15.86,"y":40.618,"d":0.04},{"x":16.36,"y":40.618,"d":-0.2},{"x":16.46,"y":40.618,"d":-0.1},{"x":14.41,"y":40.58,"d":0.08},{"x":14.51,"y":40.58,"d":0.05},{"x":14.71,"y":40.58,"d":-0.1},{"x":14.81,"y":40.58,"d":-0.1},{"x":15.01,"y":40.58,"d":-0.3},{"x":15.11,"y":40.58,"d":-0.35},{"x":15.21,"y":40.58,"d":-0.2},{"x":15.41,"y":40.58,"d":-0.6},{"x":15.51,"y":40.58,"d":-0.9},{"x":15.61,"y":40.58,"d":-0.5},{"x":15.71,"y":40.58,"d":-0.08},{"x":16.31,"y":40.58,"d":-0.1},{"x":16.41,"y":40.58,"d":-0.45},{"x":16.51,"y":40.58,"d":-0.1},{"x":15.06,"y":40.542,"d":-0.1},{"x":15.16,"y":40.542,"d":-0.08},{"x":15.26,"y":40.542,"d":0.2},{"x":15.36,"y":40.542,"d":-0.3},{"x":15.46,"y":40.542,"d":-1},{"x":15.56,"y":40.542,"d":-1},{"x":15.66,"y":40.542,"d":-0.4},{"x":16.26,"y":40.542,"d":-0.05},{"x":16.36,"y":40.542,"d":-0.2},{"x":16.46,"y":40.542,"d":-0.15},{"x":15.31,"y":40.504,"d":0.15},{"x":15.41,"y":40.504,"d":-0.7},{"x":15.51,"y":40.504,"d":-1},{"x":15.61,"y":40.504,"d":-1},{"x":15.71,"y":40.504,"d":-0.3},{"x":16.41,"y":40.504,"d":-0.1},{"x":15.26,"y":40.466,"d":0.1},{"x":15.36,"y":40.466,"d":0.1},{"x":15.46,"y":40.466,"d":-1},{"x":15.56,"y":40.466,"d":-1},{"x":15.66,"y":40.466,"d":-0.7},{"x":15.76,"y":40.466,"d":-0.05},{"x":16.36,"y":40.466,"d":-0.05},{"x":15.31,"y":40.428,"d":0.06},{"x":15.41,"y":40.428,"d":-0.8},{"x":15.51,"y":40.428,"d":-1},{"x":15.61,"y":40.428,"d":-1},{"x":15.71,"y":40.428,"d":-0.2},{"x":15.81,"y":40.428,"d":0.08},{"x":15.91,"y":40.428,"d":0.05},{"x":15.36,"y":40.39,"d":-0.5},{"x":15.46,"y":40.39,"d":-1},{"x":15.56,"y":40.39,"d":-1},{"x":15.66,"y":40.39,"d":-0.3},{"x":15.76,"y":40.39,"d":0.05},{"x":15.86,"y":40.39,"d":0.12},{"x":15.31,"y":40.352,"d":-0.2},{"x":15.41,"y":40.352,"d":-0.8},{"x":15.51,"y":40.352,"d":-1},{"x":15.61,"y":40.352,"d":-0.9},{"x":15.71,"y":40.352,"d":-0.15},{"x":15.81,"y":40.352,"d":0.25},{"x":15.91,"y":40.352,"d":0.25},{"x":15.26,"y":40.314,"d":-0.2},{"x":15.36,"y":40.314,"d":-0.5},{"x":15.46,"y":40.314,"d":-0.9},{"x":15.56,"y":40.314,"d":-1},{"x":15.66,"y":40.314,"d":-0.4},{"x":15.76,"y":40.314,"d":0.25},{"x":15.86,"y":40.314,"d":0.45},{"x":15.96,"y":40.314,"d":0.25},{"x":15.21,"y":40.276,"d":-0.1},{"x":15.31,"y":40.276,"d":-0.25},{"x":15.41,"y":40.276,"d":-0.5},{"x":15.51,"y":40.276,"d":-0.7},{"x":15.61,"y":40.276,"d":-0.8},{"x":15.71,"y":40.276,"d":-0.1},{"x":15.81,"y":40.276,"d":0.6},{"x":15.91,"y":40.276,"d":0.4},{"x":16.01,"y":40.276,"d":0.15},{"x":15.26,"y":40.238,"d":-0.1},{"x":15.36,"y":40.238,"d":-0.2},{"x":15.46,"y":40.238,"d":-0.3},{"x":15.56,"y":40.238,"d":-0.4},{"x":15.66,"y":40.238,"d":-0.35},{"x":15.76,"y":40.238,"d":0.3},{"x":15.86,"y":40.238,"d":0.5},{"x":15.96,"y":40.238,"d":0.25},{"x":15.41,"y":40.2,"d":-0.08},{"x":15.51,"y":40.2,"d":-0.15},{"x":15.61,"y":40.2,"d":-0.3},{"x":15.71,"y":40.2,"d":-0.3},{"x":15.81,"y":40.2,"d":0.2},{"x":15.91,"y":40.2,"d":0.2},{"x":16.01,"y":40.2,"d":0.05},{"x":15.46,"y":40.162,"d":0.04},{"x":15.56,"y":40.162,"d":-0.1},{"x":15.66,"y":40.162,"d":-0.4},{"x":15.76,"y":40.162,"d":-0.25},{"x":15.86,"y":40.162,"d":0.12},{"x":15.96,"y":40.162,"d":0.1},{"x":15.31,"y":40.124,"d":-0.1},{"x":15.41,"y":40.124,"d":-0.15},{"x":15.51,"y":40.124,"d":-0.05},{"x":15.61,"y":40.124,"d":-0.2},{"x":15.71,"y":40.124,"d":-0.45},{"x":15.81,"y":40.124,"d":-0.4},{"x":15.91,"y":40.124,"d":0.08},{"x":15.26,"y":40.086,"d":-0.08},{"x":15.36,"y":40.086,"d":-0.35},{"x":15.46,"y":40.086,"d":-0.2},{"x":15.66,"y":40.086,"d":-0.3},{"x":15.76,"y":40.086,"d":-0.5},{"x":15.86,"y":40.086,"d":-0.35},{"x":15.96,"y":40.086,"d":-0.1},{"x":15.31,"y":40.048,"d":-0.3},{"x":15.41,"y":40.048,"d":-0.5},{"x":15.51,"y":40.048,"d":-0.1},{"x":15.61,"y":40.048,"d":-0.05},{"x":15.71,"y":40.048,"d":-0.4},{"x":15.81,"y":40.048,"d":-0.5},{"x":15.91,"y":40.048,"d":-0.25},{"x":16.01,"y":40.048,"d":-0.1},{"x":15.36,"y":40.01,"d":-0.2},{"x":15.76,"y":40.01,"d":-0.4},{"x":15.86,"y":40.01,"d":-0.4},{"x":15.96,"y":40.01,"d":-0.25},{"x":16.06,"y":40.01,"d":-0.08},{"x":15.81,"y":39.972,"d":-0.25},{"x":15.91,"y":39.972,"d":-0.25},{"x":16.01,"y":39.972,"d":-0.12},{"x":15.86,"y":39.934,"d":-0.15},{"x":15.96,"y":39.934,"d":-0.12},{"x":15.91,"y":39.896,"d":-0.1}],
"strain":[{"t":2008.53,"v":-0.99},{"t":2008.7,"v":-1.36},{"t":2008.88,"v":-1.97},{"t":2008.99,"v":-1.67},{"t":2009.08,"v":-0.91},{"t":2009.18,"v":0.21},{"t":2009.27,"v":1.03},{"t":2009.36,"v":1.21},{"t":2009.47,"v":1.11},{"t":2009.58,"v":1.25},{"t":2009.74,"v":1.44},{"t":2009.82,"v":0.62},{"t":2009.93,"v":-0.3},{"t":2010,"v":-0.52},{"t":2010.09,"v":-0.19},{"t":2010.19,"v":0.52},{"t":2010.3,"v":0.98},{"t":2010.42,"v":0.93},{"t":2010.55,"v":0.91},{"t":2010.66,"v":0.62},{"t":2010.76,"v":-0.04},{"t":2010.84,"v":-0.24},{"t":2010.91,"v":0.42},{"t":2011.01,"v":1.44},{"t":2011.09,"v":1.89},{"t":2011.2,"v":1.99},{"t":2011.3,"v":2.05},{"t":2011.41,"v":1.94},{"t":2011.54,"v":1.38},{"t":2011.68,"v":1.18},{"t":2011.81,"v":0.52},{"t":2011.92,"v":0.01},{"t":2012,"v":-0.14},{"t":2012.08,"v":0.06},{"t":2012.16,"v":0.09},{"t":2012.28,"v":-0.4},{"t":2012.39,"v":-0.65},{"t":2012.55,"v":-0.85},{"t":2012.65,"v":-1.11},{"t":2012.82,"v":-1.57},{"t":2012.96,"v":-1.11},{"t":2013.07,"v":-0.75},{"t":2013.15,"v":2.15},{"t":2013.23,"v":2.2},{"t":2013.36,"v":1.89},{"t":2013.46,"v":2.15},{"t":2013.55,"v":2.28},{"t":2013.64,"v":1.84},{"t":2013.77,"v":1.13},{"t":2013.91,"v":0.77},{"t":2014.04,"v":0.52},{"t":2014.15,"v":1.03},{"t":2014.26,"v":1.62},{"t":2014.38,"v":1.38},{"t":2014.65,"v":0.72},{"t":2014.96,"v":0.11},{"t":2015.05,"v":0.13},{"t":2015.19,"v":0.62},{"t":2015.3,"v":0.98},{"t":2015.39,"v":0.98},{"t":2015.5,"v":1.08},{"t":2015.64,"v":0.82},{"t":2015.77,"v":0.32},{"t":2015.93,"v":-0.04},{"t":2016.07,"v":-0.48},{"t":2016.14,"v":-0.45},{"t":2016.27,"v":0.16},{"t":2016.41,"v":0.32},{"t":2016.61,"v":0.98},{"t":2016.69,"v":0.93},{"t":2016.85,"v":0.11},{"t":2017.01,"v":-0.09},{"t":2017.14,"v":-0.38},{"t":2017.28,"v":-0.24},{"t":2017.45,"v":-0.02},{"t":2017.62,"v":-0.6},{"t":2017.82,"v":-1.31},{"t":2017.99,"v":-1.72},{"t":2018.09,"v":-1.31},{"t":2018.23,"v":-0.19},{"t":2018.39,"v":0.3},{"t":2018.53,"v":0.21},{"t":2018.64,"v":0.06},{"t":2018.8,"v":-0.65},{"t":2018.91,"v":-0.6},{"t":2019.04,"v":-0.7},{"t":2019.24,"v":-0.72},{"t":2019.38,"v":-0.94},{"t":2019.55,"v":-0.45},{"t":2019.62,"v":-0.45},{"t":2019.78,"v":-1.31},{"t":2019.92,"v":-1.69},{"t":2020.08,"v":-1.01},{"t":2020.3,"v":-0.21},{"t":2020.42,"v":-0.4},{"t":2020.66,"v":-0.96},{"t":2020.86,"v":-2.08},{"t":2021.01,"v":-2.13},{"t":2021.14,"v":-0.19},{"t":2021.24,"v":1.03},{"t":2021.38,"v":1.4},{"t":2021.47,"v":1.03},{"t":2021.58,"v":0.01},{"t":2021.74,"v":-0.14},{"t":2021.85,"v":-0.5},{"t":2021.99,"v":-1.36}],
"dvv":[{"t":2008.53,"v":0.04},{"t":2008.57,"v":0.013},{"t":2008.7,"v":0.062},{"t":2008.85,"v":-0.002},{"t":2008.93,"v":0.02},{"t":2008.99,"v":0.006},{"t":2009.07,"v":0.109},{"t":2009.14,"v":0.089},{"t":2009.27,"v":-0.083},{"t":2009.42,"v":-0.126},{"t":2009.61,"v":-0.073},{"t":2009.65,"v":-0.012},{"t":2009.72,"v":-0.027},{"t":2009.85,"v":0.033},{"t":2009.95,"v":0.069},{"t":2010.05,"v":0.028},{"t":2010.19,"v":-0.093},{"t":2010.28,"v":-0.133},{"t":2010.43,"v":-0.143},{"t":2010.59,"v":-0.103},{"t":2010.73,"v":-0.01},{"t":2010.86,"v":-0.02},{"t":2011,"v":-0.073},{"t":2011.07,"v":-0.083},{"t":2011.16,"v":-0.101},{"t":2011.27,"v":-0.073},{"t":2011.5,"v":-0.088},{"t":2011.61,"v":-0.073},{"t":2011.81,"v":0.028},{"t":2011.95,"v":0.109},{"t":2012.08,"v":0.141},{"t":2012.22,"v":0.028},{"t":2012.35,"v":-0.017},{"t":2012.55,"v":-0.017},{"t":2012.69,"v":0.038},{"t":2012.77,"v":0.074},{"t":2012.86,"v":0.043},{"t":2013.03,"v":0.097},{"t":2013.16,"v":0.008},{"t":2013.36,"v":-0.063},{"t":2013.53,"v":-0.156},{"t":2013.66,"v":-0.113},{"t":2013.77,"v":-0.068},{"t":2013.97,"v":-0.078},{"t":2014.2,"v":-0.042},{"t":2014.41,"v":-0.131},{"t":2014.51,"v":-0.083},{"t":2014.62,"v":-0.121},{"t":2014.72,"v":-0.108},{"t":2014.85,"v":0.028},{"t":2015.01,"v":0.107},{"t":2015.19,"v":0.059},{"t":2015.32,"v":0.008},{"t":2015.53,"v":-0.032},{"t":2015.66,"v":-0.042},{"t":2015.8,"v":0.028},{"t":2015.86,"v":0.089},{"t":2016,"v":0.144},{"t":2016.09,"v":0.109},{"t":2016.27,"v":-0.002},{"t":2016.54,"v":-0.027},{"t":2016.61,"v":-0.037},{"t":2016.74,"v":0.028},{"t":2016.88,"v":0.079},{"t":2017.04,"v":0.141},{"t":2017.22,"v":0.089},{"t":2017.35,"v":0.018},{"t":2017.53,"v":0.003},{"t":2017.69,"v":0.059},{"t":2017.82,"v":0.114},{"t":2017.96,"v":0.121},{"t":2018.09,"v":0.048},{"t":2018.23,"v":-0.012},{"t":2018.43,"v":-0.061},{"t":2018.57,"v":-0.042},{"t":2018.77,"v":0.008},{"t":2018.88,"v":0.089},{"t":2019.04,"v":0.038},{"t":2019.24,"v":0.043},{"t":2019.51,"v":-0.032},{"t":2019.65,"v":0.038},{"t":2019.85,"v":0.099},{"t":2019.99,"v":0.101},{"t":2020.12,"v":0.054},{"t":2020.26,"v":0.028},{"t":2020.46,"v":0.033},{"t":2020.62,"v":0.028},{"t":2020.8,"v":0.079},{"t":2021,"v":0.119},{"t":2021.14,"v":0.028},{"t":2021.27,"v":-0.053},{"t":2021.45,"v":-0.111},{"t":2021.61,"v":-0.042},{"t":2021.74,"v":0.018},{"t":2021.81,"v":0.079},{"t":2021.95,"v":0.114},{"t":2021.99,"v":0.104}],
"eq":[{"t":2008.16,"v":0.047},{"t":2008.26,"v":0.047},{"t":2008.3,"v":0.08},{"t":2008.36,"v":0.037},{"t":2008.43,"v":0.07},{"t":2008.53,"v":0.066},{"t":2008.59,"v":0.131},{"t":2008.68,"v":0.164},{"t":2008.74,"v":0.167},{"t":2008.84,"v":0.122},{"t":2008.93,"v":0.075},{"t":2009.01,"v":0.112},{"t":2009.15,"v":0.112},{"t":2009.24,"v":0.169},{"t":2009.34,"v":0.309},{"t":2009.45,"v":0.487},{"t":2009.51,"v":0.366},{"t":2009.61,"v":0.291},{"t":2009.72,"v":0.253},{"t":2009.82,"v":0.216},{"t":2009.92,"v":0.159},{"t":2010.03,"v":0.094},{"t":2010.19,"v":0.094},{"t":2010.32,"v":0.187},{"t":2010.46,"v":0.234},{"t":2010.55,"v":0.206},{"t":2010.66,"v":0.262},{"t":2010.77,"v":0.3},{"t":2010.86,"v":0.291},{"t":2011,"v":0.342},{"t":2011.07,"v":0.216},{"t":2011.2,"v":0.169},{"t":2011.28,"v":0.234},{"t":2011.31,"v":0.159},{"t":2011.47,"v":0.319},{"t":2011.58,"v":0.234},{"t":2011.68,"v":0.131},{"t":2011.74,"v":0.122},{"t":2011.88,"v":0.244},{"t":2012.01,"v":0.244},{"t":2012.12,"v":0.15},{"t":2012.26,"v":0.094},{"t":2012.35,"v":0.131},{"t":2012.49,"v":0.206},{"t":2012.58,"v":0.276},{"t":2012.69,"v":0.178},{"t":2012.8,"v":0.094},{"t":2012.89,"v":0.066},{"t":2013.03,"v":0.075},{"t":2013.16,"v":0.037},{"t":2013.3,"v":0.253},{"t":2013.5,"v":0.445},{"t":2013.64,"v":0.356},{"t":2013.77,"v":0.197},{"t":2013.91,"v":0.075},{"t":2014,"v":0.066},{"t":2014.18,"v":0.131},{"t":2014.31,"v":0.108},{"t":2014.51,"v":0.117},{"t":2014.72,"v":0.141},{"t":2014.85,"v":0.094},{"t":2015.01,"v":0.033},{"t":2015.09,"v":0.019},{"t":2015.26,"v":0.103},{"t":2015.39,"v":0.155},{"t":2015.53,"v":0.098},{"t":2015.73,"v":0.061},{"t":2015.93,"v":0.094},{"t":2016.14,"v":0.131},{"t":2016.31,"v":0.075},{"t":2016.54,"v":0.173},{"t":2016.68,"v":0.169},{"t":2016.88,"v":0.131},{"t":2017.08,"v":0.089},{"t":2017.28,"v":0.005},{"t":2017.53,"v":0.164},{"t":2017.69,"v":0.199},{"t":2017.82,"v":0.131},{"t":2018.03,"v":0.084},{"t":2018.23,"v":0.056},{"t":2018.36,"v":0.094},{"t":2018.64,"v":0.028},{"t":2018.84,"v":0.094},{"t":2019.04,"v":0.131},{"t":2019.18,"v":0.084},{"t":2019.38,"v":0.037},{"t":2019.58,"v":0.094},{"t":2019.78,"v":0.131},{"t":2019.92,"v":0.103},{"t":2020.12,"v":0.023},{"t":2020.32,"v":0.084},{"t":2020.46,"v":0.141},{"t":2020.66,"v":0.127},{"t":2020.8,"v":0.131},{"t":2020.86,"v":0.066},{"t":2021.04,"v":0.005},{"t":2021.2,"v":0.094},{"t":2021.34,"v":0.178},{"t":2021.43,"v":0.253},{"t":2021.54,"v":0.206},{"t":2021.74,"v":0.169},{"t":2021.91,"v":0.103},{"t":2022.01,"v":0.159},{"t":2022.05,"v":0.244}],
"discharge":[{"t":2007.73,"v":3.15},{"t":2007.89,"v":3.07},{"t":2008.07,"v":2.98},{"t":2008.2,"v":2.86},{"t":2008.34,"v":3.07},{"t":2008.53,"v":3.19},{"t":2008.7,"v":3.15},{"t":2008.91,"v":3},{"t":2009,"v":3.11},{"t":2009.08,"v":4.04},{"t":2009.24,"v":4.97},{"t":2009.42,"v":5.22},{"t":2009.58,"v":5.09},{"t":2009.74,"v":4.46},{"t":2009.92,"v":3.87},{"t":2010.03,"v":3.7},{"t":2010.15,"v":3.87},{"t":2010.28,"v":4.54},{"t":2010.42,"v":4.7},{"t":2010.53,"v":4.63},{"t":2010.69,"v":4.21},{"t":2010.86,"v":3.87},{"t":2010.96,"v":4.97},{"t":2011.09,"v":5.35},{"t":2011.27,"v":5.41},{"t":2011.41,"v":5.22},{"t":2011.61,"v":4.63},{"t":2011.88,"v":3.95},{"t":2012.08,"v":3.45},{"t":2012.28,"v":3.39},{"t":2012.49,"v":3.43},{"t":2012.69,"v":3.32},{"t":2012.92,"v":3.11},{"t":2013.09,"v":3.45},{"t":2013.23,"v":4.46},{"t":2013.43,"v":5.03},{"t":2013.61,"v":4.84},{"t":2013.84,"v":4.12},{"t":2014.04,"v":3.76},{"t":2014.2,"v":4.21},{"t":2014.38,"v":4.46},{"t":2014.55,"v":4.5},{"t":2014.72,"v":4.29},{"t":2014.92,"v":3.78},{"t":2015.12,"v":3.51},{"t":2015.32,"v":3.87},{"t":2015.53,"v":4.02},{"t":2015.73,"v":3.87},{"t":2015.93,"v":3.49},{"t":2016.14,"v":3.3},{"t":2016.27,"v":3.66},{"t":2016.54,"v":3.83},{"t":2016.74,"v":3.66},{"t":2016.95,"v":3.36},{"t":2017.15,"v":3.18},{"t":2017.39,"v":3.28},{"t":2017.62,"v":3.18},{"t":2017.96,"v":2.92},{"t":2018.09,"v":2.98},{"t":2018.26,"v":3.62},{"t":2018.43,"v":4.12},{"t":2018.64,"v":4},{"t":2018.84,"v":3.62},{"t":2019.04,"v":3.3},{"t":2019.24,"v":3.41},{"t":2019.58,"v":3.46},{"t":2019.85,"v":3.24},{"t":2020.05,"v":3.21},{"t":2020.46,"v":3.22},{"t":2020.66,"v":3.15},{"t":2020.86,"v":2.97},{"t":2021,"v":3.03},{"t":2021.14,"v":4.12},{"t":2021.27,"v":4.63},{"t":2021.41,"v":4.74},{"t":2021.54,"v":4.65},{"t":2021.74,"v":4.21},{"t":2021.95,"v":3.57},{"t":2022.22,"v":3.57}],
"histStrain":[{"a0":175,"a1":180,"f":5.6,"s":"e"},{"a0":165,"a1":175,"f":9.4,"s":"e"},{"a0":155,"a1":165,"f":8.7,"s":"e"},{"a0":135,"a1":145,"f":1.3,"s":"e"},{"a0":125,"a1":135,"f":0.4,"s":"e"},{"a0":115,"a1":125,"f":3.1,"s":"e"},{"a0":105,"a1":115,"f":1.3,"s":"e"},{"a0":95,"a1":105,"f":2.4,"s":"e"},{"a0":85,"a1":95,"f":4.9,"s":"e"},{"a0":75,"a1":85,"f":27.3,"s":"e"},{"a0":65,"a1":75,"f":22.1,"s":"e"},{"a0":55,"a1":65,"f":8.2,"s":"e"},{"a0":45,"a1":55,"f":3.1,"s":"e"},{"a0":35,"a1":45,"f":1.3,"s":"e"},{"a0":0,"a1":5,"f":-7,"s":"c"},{"a0":5,"a1":15,"f":-4.6,"s":"c"},{"a0":15,"a1":25,"f":-3.9,"s":"c"},{"a0":25,"a1":35,"f":-6.5,"s":"c"},{"a0":35,"a1":45,"f":-3,"s":"c"},{"a0":45,"a1":55,"f":-8.7,"s":"c"},{"a0":55,"a1":65,"f":-15,"s":"c"},{"a0":65,"a1":75,"f":-17.2,"s":"c"},{"a0":75,"a1":85,"f":-21.4,"s":"c"},{"a0":85,"a1":95,"f":-5,"s":"c"},{"a0":95,"a1":105,"f":-3.8,"s":"c"},{"a0":105,"a1":115,"f":-2.8,"s":"c"},{"a0":115,"a1":125,"f":-1.7,"s":"c"},{"a0":125,"a1":135,"f":-0.8,"s":"c"},{"a0":135,"a1":145,"f":-0.3,"s":"c"}],
"histDvv":[{"a0":175,"a1":180,"f":-7.9,"s":"c"},{"a0":165,"a1":175,"f":-7.9,"s":"c"},{"a0":155,"a1":165,"f":-8.7,"s":"c"},{"a0":115,"a1":125,"f":-3.8,"s":"c"},{"a0":105,"a1":115,"f":-4.5,"s":"c"},{"a0":95,"a1":105,"f":-4.5,"s":"c"},{"a0":85,"a1":95,"f":-3.8,"s":"c"},{"a0":75,"a1":85,"f":-21,"s":"c"},{"a0":65,"a1":75,"f":-22.8,"s":"c"},{"a0":55,"a1":65,"f":-9.6,"s":"c"},{"a0":45,"a1":55,"f":-3,"s":"c"},{"a0":35,"a1":45,"f":-1.7,"s":"c"},{"a0":0,"a1":35,"f":-0.4,"s":"c"},{"a0":115,"a1":125,"f":1.4,"s":"e"},{"a0":105,"a1":115,"f":2.4,"s":"e"},{"a0":95,"a1":105,"f":2.8,"s":"e"},{"a0":85,"a1":95,"f":3.5,"s":"e"},{"a0":75,"a1":85,"f":24.4,"s":"e"},{"a0":65,"a1":75,"f":18.9,"s":"e"},{"a0":55,"a1":65,"f":14.4,"s":"e"},{"a0":45,"a1":55,"f":9.4,"s":"e"},{"a0":35,"a1":45,"f":2.8,"s":"e"},{"a0":25,"a1":35,"f":6.6,"s":"e"},{"a0":15,"a1":25,"f":1.4,"s":"e"},{"a0":5,"a1":15,"f":2.8,"s":"e"},{"a0":0,"a1":5,"f":8.7,"s":"e"}],
"labelC":[{"x":-46.2,"y":20.3,"t":"compressional"}],
"labelE":[{"x":46,"y":20.3,"t":"extensional"}],
"frame":[{"x0":-50,"x1":50,"y0":0,"y1":180}],
"mapFrame":[{"x0":14.103,"x1":16.806,"y0":39.603,"y1":41.607}],
"epochBox":[{"x0":16.109,"x1":16.611,"y0":41.485,"y1":41.581}]
},
"hconcat":[
{"vconcat":[
{"width":473,"height":503,"resolve":{"axis":{"x":"independent","y":"independent"}},"layer":[
{"data":{"name":"sea"},"projection":{"type":"mercator","scale":10027,"center":[15.454,40.605],"translate":[236.5,229.5]},"mark":{"type":"geoshape","fill":"#ccffff","stroke":"black","strokeWidth":0.8}},
{"data":{"name":"cellsA"},"mark":{"type":"point","shape":"diamond","filled":true,"size":306,"opacity":1,"stroke":"white","strokeWidth":0.3},"encoding":{"x":{"field":"x","type":"quantitative","scale":{"domain":[14.103,16.806],"nice":false,"zero":false},"axis":{"orient":"top","values":[15,16],"title":null,"tickSize":11,"labelPadding":8,"labelExpr":"datum.value+'°'"}},"y":{"field":"y","type":"quantitative","scale":{"domain":[39.603,41.607],"range":[459,0],"nice":false,"zero":false},"axis":{"orient":"left","values":[40,41],"title":null,"tickSize":11,"labelPadding":10,"labelExpr":"datum.value+'°'"}},"color":{"field":"d","type":"quantitative","scale":{"domain":[-1,0,1],"range":["#0000ff","#ffffff","#ff0000"],"clamp":true,"interpolate":"rgb"},"legend":null}}},
{"data":{"name":"islands"},"projection":{"type":"mercator","scale":10027,"center":[15.454,40.605],"translate":[236.5,229.5]},"mark":{"type":"geoshape","fill":"white","stroke":"black","strokeWidth":0.8}},
{"data":{"name":"contours"},"mark":{"type":"line","color":"#009a00","strokeWidth":0.9},"encoding":{"x":{"field":"x","type":"quantitative","scale":{"domain":[14.103,16.806],"nice":false,"zero":false},"axis":{"orient":"bottom","offset":-44,"values":[15,16],"title":null,"tickSize":11,"labels":false}},"y":{"field":"y","type":"quantitative","scale":{"domain":[39.603,41.607],"range":[459,0],"nice":false,"zero":false},"axis":{"orient":"right","values":[40,41],"title":null,"tickSize":11,"labels":false}},"detail":{"field":"g"},"order":{"field":"o"}}},
{"data":{"name":"arrowsA"},"mark":{"type":"rule","color":"#ff0000","strokeWidth":5.5},"encoding":{"x":{"field":"x","type":"quantitative","scale":{"domain":[14.103,16.806],"nice":false,"zero":false},"axis":null},"y":{"field":"y","type":"quantitative","scale":{"domain":[39.603,41.607],"range":[459,0],"nice":false,"zero":false},"axis":null},"x2":{"field":"x2"},"y2":{"field":"y2"}}},
{"data":{"name":"arrowsA"},"mark":{"type":"point","filled":true,"opacity":1,"color":"#ff0000","shape":"M0,-1L0.6,0.35L0,0L-0.6,0.35Z"},"encoding":{"x":{"field":"x2","type":"quantitative","scale":{"domain":[14.103,16.806],"nice":false,"zero":false},"axis":null},"y":{"field":"y2","type":"quantitative","scale":{"domain":[39.603,41.607],"range":[459,0],"nice":false,"zero":false},"axis":null},"angle":{"field":"az","type":"quantitative","scale":null},"size":{"field":"mm","type":"quantitative","scale":{"type":"pow","exponent":2,"domain":[0,1.41],"range":[0,1200],"clamp":true},"legend":null}}},
{"data":{"name":"arrowsA"},"mark":{"type":"rule","color":"black","strokeWidth":3.2},"encoding":{"x":{"field":"x","type":"quantitative","scale":{"domain":[14.103,16.806],"nice":false,"zero":false},"axis":null},"y":{"field":"y","type":"quantitative","scale":{"domain":[39.603,41.607],"range":[459,0],"nice":false,"zero":false},"axis":null},"x2":{"field":"x2"},"y2":{"field":"y2"}}},
{"data":{"name":"arrowsA"},"mark":{"type":"point","filled":true,"opacity":1,"color":"black","shape":"M0,-0.85L0.36,0.28L0,0L-0.36,0.28Z"},"encoding":{"x":{"field":"x2","type":"quantitative","scale":{"domain":[14.103,16.806],"nice":false,"zero":false},"axis":null},"y":{"field":"y2","type":"quantitative","scale":{"domain":[39.603,41.607],"range":[459,0],"nice":false,"zero":false},"axis":null},"angle":{"field":"az","type":"quantitative","scale":null},"size":{"field":"mm","type":"quantitative","scale":{"type":"pow","exponent":2,"domain":[0,1.41],"range":[0,1200],"clamp":true},"legend":null}}},
{"data":{"name":"sites"},"mark":{"type":"point","shape":"circle","filled":true,"opacity":1,"size":133,"stroke":"white","strokeWidth":1},"encoding":{"x":{"field":"x","type":"quantitative","scale":{"domain":[14.103,16.806],"nice":false,"zero":false},"axis":null},"y":{"field":"y","type":"quantitative","scale":{"domain":[39.603,41.607],"range":[459,0],"nice":false,"zero":false},"axis":null},"fill":{"field":"c","type":"nominal","scale":{"domain":["r","g","b"],"range":["#ff0000","#00b000","#0000ff"]},"legend":null}}},
{"data":{"name":"epochBox"},"mark":{"type":"rect","fill":"white"},"encoding":{"x":{"field":"x0","type":"quantitative","scale":{"domain":[14.103,16.806],"nice":false,"zero":false},"axis":null},"x2":{"field":"x1"},"y":{"field":"y0","type":"quantitative","scale":{"domain":[39.603,41.607],"range":[459,0],"nice":false,"zero":false},"axis":null},"y2":{"field":"y1"}}},
{"data":{"values":[{"x":16.36,"y":41.533,"t":"2011.36"}]},"mark":{"type":"text","fontSize":23,"fontWeight":"bold","color":"black"},"encoding":{"x":{"field":"x","type":"quantitative","scale":{"domain":[14.103,16.806],"nice":false,"zero":false},"axis":null},"y":{"field":"y","type":"quantitative","scale":{"domain":[39.603,41.607],"range":[459,0],"nice":false,"zero":false},"axis":null},"text":{"field":"t"}}},
{"data":{"values":[{"x":14.223,"y":39.729,"t":"a)"}]},"mark":{"type":"text","fontSize":18,"align":"left","color":"black"},"encoding":{"x":{"field":"x","type":"quantitative","scale":{"domain":[14.103,16.806],"nice":false,"zero":false},"axis":null},"y":{"field":"y","type":"quantitative","scale":{"domain":[39.603,41.607],"range":[459,0],"nice":false,"zero":false},"axis":null},"text":{"field":"t"}}},
{"data":{"name":"mapFrame"},"mark":{"type":"rect","fill":null,"fillOpacity":0,"stroke":"black","strokeWidth":3.5},"encoding":{"x":{"field":"x0","type":"quantitative","scale":{"domain":[14.103,16.806],"nice":false,"zero":false},"axis":null},"x2":{"field":"x1"},"y":{"field":"y0","type":"quantitative","scale":{"domain":[39.603,41.607],"range":[459,0],"nice":false,"zero":false},"axis":null},"y2":{"field":"y1"}}}
]},
{"width":473,"height":459,"resolve":{"axis":{"x":"independent","y":"independent"}},"layer":[
{"data":{"name":"sea"},"projection":{"type":"mercator","scale":10027,"center":[15.454,40.605],"translate":[236.5,229.5]},"mark":{"type":"geoshape","fill":"#ccffff","stroke":"black","strokeWidth":0.8}},
{"data":{"name":"cellsB"},"mark":{"type":"point","shape":"diamond","filled":true,"size":306,"opacity":1,"stroke":"white","strokeWidth":0.3},"encoding":{"x":{"field":"x","type":"quantitative","scale":{"domain":[14.103,16.806],"nice":false,"zero":false},"axis":{"orient":"top","values":[15,16],"title":null,"tickSize":11,"labelPadding":8,"labelExpr":"datum.value+'°'"}},"y":{"field":"y","type":"quantitative","scale":{"domain":[39.603,41.607],"range":[459,0],"nice":false,"zero":false},"axis":{"orient":"left","values":[40,41],"title":null,"tickSize":11,"labelPadding":10,"labelExpr":"datum.value+'°'"}},"color":{"field":"d","type":"quantitative","scale":{"domain":[-1,0,1],"range":["#0000ff","#ffffff","#ff0000"],"clamp":true,"interpolate":"rgb"},"legend":null}}},
{"data":{"name":"islands"},"projection":{"type":"mercator","scale":10027,"center":[15.454,40.605],"translate":[236.5,229.5]},"mark":{"type":"geoshape","fill":"white","stroke":"black","strokeWidth":0.8}},
{"data":{"name":"contours"},"mark":{"type":"line","color":"#009a00","strokeWidth":0.9},"encoding":{"x":{"field":"x","type":"quantitative","scale":{"domain":[14.103,16.806],"nice":false,"zero":false},"axis":{"orient":"bottom","values":[15,16],"title":null,"tickSize":11,"labelPadding":8,"labelExpr":"datum.value+'°'"}},"y":{"field":"y","type":"quantitative","scale":{"domain":[39.603,41.607],"range":[459,0],"nice":false,"zero":false},"axis":{"orient":"right","values":[40,41],"title":null,"tickSize":11,"labels":false}},"detail":{"field":"g"},"order":{"field":"o"}}},
{"data":{"name":"arrowsB"},"mark":{"type":"rule","color":"#ff0000","strokeWidth":5.5},"encoding":{"x":{"field":"x","type":"quantitative","scale":{"domain":[14.103,16.806],"nice":false,"zero":false},"axis":null},"y":{"field":"y","type":"quantitative","scale":{"domain":[39.603,41.607],"range":[459,0],"nice":false,"zero":false},"axis":null},"x2":{"field":"x2"},"y2":{"field":"y2"}}},
{"data":{"name":"arrowsB"},"mark":{"type":"point","filled":true,"opacity":1,"color":"#ff0000","shape":"M0,-1L0.6,0.35L0,0L-0.6,0.35Z"},"encoding":{"x":{"field":"x2","type":"quantitative","scale":{"domain":[14.103,16.806],"nice":false,"zero":false},"axis":null},"y":{"field":"y2","type":"quantitative","scale":{"domain":[39.603,41.607],"range":[459,0],"nice":false,"zero":false},"axis":null},"angle":{"field":"az","type":"quantitative","scale":null},"size":{"field":"mm","type":"quantitative","scale":{"type":"pow","exponent":2,"domain":[0,1.41],"range":[0,1200],"clamp":true},"legend":null}}},
{"data":{"name":"arrowsB"},"mark":{"type":"rule","color":"black","strokeWidth":3.2},"encoding":{"x":{"field":"x","type":"quantitative","scale":{"domain":[14.103,16.806],"nice":false,"zero":false},"axis":null},"y":{"field":"y","type":"quantitative","scale":{"domain":[39.603,41.607],"range":[459,0],"nice":false,"zero":false},"axis":null},"x2":{"field":"x2"},"y2":{"field":"y2"}}},
{"data":{"name":"arrowsB"},"mark":{"type":"point","filled":true,"opacity":1,"color":"black","shape":"M0,-0.85L0.36,0.28L0,0L-0.36,0.28Z"},"encoding":{"x":{"field":"x2","type":"quantitative","scale":{"domain":[14.103,16.806],"nice":false,"zero":false},"axis":null},"y":{"field":"y2","type":"quantitative","scale":{"domain":[39.603,41.607],"range":[459,0],"nice":false,"zero":false},"axis":null},"angle":{"field":"az","type":"quantitative","scale":null},"size":{"field":"mm","type":"quantitative","scale":{"type":"pow","exponent":2,"domain":[0,1.41],"range":[0,1200],"clamp":true},"legend":null}}},
{"data":{"values":[{"x":14.499,"y":39.801,"x2":15.032,"y2":39.801}]},"mark":{"type":"rule","color":"#ff0000","strokeWidth":7.5},"encoding":{"x":{"field":"x","type":"quantitative","scale":{"domain":[14.103,16.806],"nice":false,"zero":false},"axis":null},"y":{"field":"y","type":"quantitative","scale":{"domain":[39.603,41.607],"range":[459,0],"nice":false,"zero":false},"axis":null},"x2":{"field":"x2"},"y2":{"field":"y2"}}},
{"data":{"values":[{"x":15.032,"y":39.801}]},"mark":{"type":"point","filled":true,"opacity":1,"color":"#ff0000","size":2500,"angle":90,"shape":"M0,-1L0.35,0L-0.35,0Z"},"encoding":{"x":{"field":"x","type":"quantitative","scale":{"domain":[14.103,16.806],"nice":false,"zero":false},"axis":null},"y":{"field":"y","type":"quantitative","scale":{"domain":[39.603,41.607],"range":[459,0],"nice":false,"zero":false},"axis":null}}},
{"data":{"values":[{"x":14.499,"y":39.9,"x2":15.07,"y2":39.9}]},"mark":{"type":"rule","color":"black","strokeWidth":3},"encoding":{"x":{"field":"x","type":"quantitative","scale":{"domain":[14.103,16.806],"nice":false,"zero":false},"axis":null},"y":{"field":"y","type":"quantitative","scale":{"domain":[39.603,41.607],"range":[459,0],"nice":false,"zero":false},"axis":null},"x2":{"field":"x2"},"y2":{"field":"y2"}}},
{"data":{"values":[{"x":15.07,"y":39.9}]},"mark":{"type":"point","filled":true,"opacity":1,"color":"black","size":1296,"angle":90,"shape":"M0,-1L0.26,0.1L0,0L-0.26,0.1Z"},"encoding":{"x":{"field":"x","type":"quantitative","scale":{"domain":[14.103,16.806],"nice":false,"zero":false},"axis":null},"y":{"field":"y","type":"quantitative","scale":{"domain":[39.603,41.607],"range":[459,0],"nice":false,"zero":false},"axis":null}}},
{"data":{"values":[{"x":14.465,"y":39.9,"t":"5 mm (obs)"}]},"mark":{"type":"text","fontSize":10,"align":"right","color":"#333333"},"encoding":{"x":{"field":"x","type":"quantitative","scale":{"domain":[14.103,16.806],"nice":false,"zero":false},"axis":null},"y":{"field":"y","type":"quantitative","scale":{"domain":[39.603,41.607],"range":[459,0],"nice":false,"zero":false},"axis":null},"text":{"field":"t"}}},
{"data":{"values":[{"x":14.465,"y":39.801,"t":"5 mm (calc)"}]},"mark":{"type":"text","fontSize":10,"align":"right","color":"#ff3333"},"encoding":{"x":{"field":"x","type":"quantitative","scale":{"domain":[14.103,16.806],"nice":false,"zero":false},"axis":null},"y":{"field":"y","type":"quantitative","scale":{"domain":[39.603,41.607],"range":[459,0],"nice":false,"zero":false},"axis":null},"text":{"field":"t"}}},
{"data":{"name":"sites"},"mark":{"type":"point","shape":"circle","filled":true,"opacity":1,"size":133,"stroke":"white","strokeWidth":1},"encoding":{"x":{"field":"x","type":"quantitative","scale":{"domain":[14.103,16.806],"nice":false,"zero":false},"axis":null},"y":{"field":"y","type":"quantitative","scale":{"domain":[39.603,41.607],"range":[459,0],"nice":false,"zero":false},"axis":null},"fill":{"field":"c","type":"nominal","scale":{"domain":["r","g","b"],"range":["#ff0000","#00b000","#0000ff"]},"legend":null}}},
{"data":{"name":"epochBox"},"mark":{"type":"rect","fill":"white"},"encoding":{"x":{"field":"x0","type":"quantitative","scale":{"domain":[14.103,16.806],"nice":false,"zero":false},"axis":null},"x2":{"field":"x1"},"y":{"field":"y0","type":"quantitative","scale":{"domain":[39.603,41.607],"range":[459,0],"nice":false,"zero":false},"axis":null},"y2":{"field":"y1"}}},
{"data":{"values":[{"x":16.36,"y":41.533,"t":"2020.92"}]},"mark":{"type":"text","fontSize":23,"fontWeight":"bold","color":"black"},"encoding":{"x":{"field":"x","type":"quantitative","scale":{"domain":[14.103,16.806],"nice":false,"zero":false},"axis":null},"y":{"field":"y","type":"quantitative","scale":{"domain":[39.603,41.607],"range":[459,0],"nice":false,"zero":false},"axis":null},"text":{"field":"t"}}},
{"data":{"values":[{"x":14.223,"y":39.734,"t":"b)"}]},"mark":{"type":"text","fontSize":18,"align":"left","color":"black"},"encoding":{"x":{"field":"x","type":"quantitative","scale":{"domain":[14.103,16.806],"nice":false,"zero":false},"axis":null},"y":{"field":"y","type":"quantitative","scale":{"domain":[39.603,41.607],"range":[459,0],"nice":false,"zero":false},"axis":null},"text":{"field":"t"}}},
{"data":{"name":"mapFrame"},"mark":{"type":"rect","fill":null,"fillOpacity":0,"stroke":"black","strokeWidth":3.5},"encoding":{"x":{"field":"x0","type":"quantitative","scale":{"domain":[14.103,16.806],"nice":false,"zero":false},"axis":null},"x2":{"field":"x1"},"y":{"field":"y0","type":"quantitative","scale":{"domain":[39.603,41.607],"range":[459,0],"nice":false,"zero":false},"axis":null},"y2":{"field":"y1"}}}
]},
{"width":473,"height":18,"resolve":{"axis":{"x":"independent"}},"layer":[
{"data":{"values":[{"a":-1,"b":1}]},"mark":{"type":"rect","stroke":"black","strokeWidth":1.5,"color":{"x1":0,"y1":0,"x2":1,"y2":0,"gradient":"linear","stops":[{"offset":0,"color":"#0000ff"},{"offset":0.5,"color":"#ffffff"},{"offset":1,"color":"#ff0000"}]}},"encoding":{"x":{"field":"a","type":"quantitative","scale":{"domain":[-1,1],"range":[88,383],"nice":false,"zero":false},"axis":{"orient":"bottom","values":[-1,-0.5,0,0.5,1],"format":".1f","tickSize":4,"labelFontSize":10,"labelPadding":8,"labelColor":"#333333","title":"Dilatation","titleFontSize":10,"titleColor":"#333333","titlePadding":11}},"x2":{"field":"b"}}},
{"data":{"values":[{"a":-1.034}]},"mark":{"type":"point","filled":true,"opacity":1,"fill":"#0000ff","stroke":"black","strokeWidth":1,"size":324,"shape":"M0.55,-1L-0.55,0L0.55,1Z"},"encoding":{"x":{"field":"a","type":"quantitative","scale":{"domain":[-1,1],"range":[88,383],"nice":false,"zero":false},"axis":null}}},
{"data":{"values":[{"a":1.034}]},"mark":{"type":"point","filled":true,"opacity":1,"fill":"#ff0000","stroke":"black","strokeWidth":1,"size":324,"shape":"M-0.55,-1L0.55,0L-0.55,1Z"},"encoding":{"x":{"field":"a","type":"quantitative","scale":{"domain":[-1,1],"range":[88,383],"nice":false,"zero":false},"axis":null}}},
{"data":{"values":[{"a":1.1,"t":"strain (x 10⁻⁶)"}]},"mark":{"type":"text","align":"left","fontSize":16.5,"color":"black"},"encoding":{"x":{"field":"a","type":"quantitative","scale":{"domain":[-1,1],"range":[88,383],"nice":false,"zero":false},"axis":null},"text":{"field":"t"}}}
]}
],"spacing":58,"bounds":"flush"},
{"vconcat":[
{"width":384,"height":662,"resolve":{"scale":{"y":"independent"},"axis":{"x":"independent","y":"independent"}},"layer":[
{"data":{"values":[{"t":2008},{"t":2009},{"t":2010},{"t":2011},{"t":2012},{"t":2013},{"t":2014},{"t":2015},{"t":2016},{"t":2017},{"t":2018},{"t":2019},{"t":2020},{"t":2021},{"t":2022}]},"mark":{"type":"rule","color":"#777777","strokeDash":[2,2],"strokeWidth":1},"encoding":{"x":{"field":"t","type":"quantitative","scale":{"domain":[2007.774,2022.264],"nice":false,"zero":false},"axis":{"orient":"bottom","offset":-130,"values":[2008,2010,2012,2014,2016,2018,2020,2022],"format":"d","domain":true,"domainWidth":4,"domainColor":"black","tickSize":9,"tickWidth":1.5,"labelPadding":9,"labelFontWeight":"bold","labelFontSize":18,"title":"years","titleFontWeight":"bold","titleFontSize":17.5,"titlePadding":15}},"y":{"datum":0,"type":"quantitative","scale":{"domain":[0,1],"range":[532,31]},"axis":null},"y2":{"datum":1}}},
{"data":{"values":[{"t":2011.36},{"t":2020.92}]},"mark":{"type":"rule","color":"#c8c8c8","strokeWidth":4.5},"encoding":{"x":{"field":"t","type":"quantitative","scale":{"domain":[2007.774,2022.264],"nice":false,"zero":false},"axis":null},"y":{"datum":0,"type":"quantitative","scale":{"domain":[0,1],"range":[532,31]},"axis":null},"y2":{"datum":1}}},
{"data":{"name":"strain"},"mark":{"type":"line","color":"#ff0000","strokeWidth":1},"encoding":{"x":{"field":"t","type":"quantitative","scale":{"domain":[2007.774,2022.264],"nice":false,"zero":false},"axis":null},"y":{"field":"v","type":"quantitative","scale":{"domain":[-2.515,2.909],"range":[194,15],"nice":false,"zero":false},"axis":{"orient":"left","values":[-2,-1,0,1,2],"format":"d","domain":true,"domainWidth":3,"domainColor":"black","tickSize":10,"labelPadding":8,"title":"horizontal dilatation (x 10⁻⁶)","titlePadding":16}}}},
{"data":{"name":"dvv"},"mark":{"type":"line","color":"#00c000","strokeWidth":1},"encoding":{"x":{"field":"t","type":"quantitative","scale":{"domain":[2007.774,2022.264],"nice":false,"zero":false},"axis":null},"y":{"field":"v","type":"quantitative","scale":{"domain":[-0.255,0.29],"range":[144,324],"nice":false,"zero":false},"axis":{"orient":"right","values":[-0.2,0,0.2],"format":".1f","domain":true,"domainWidth":3,"domainColor":"black","tickSize":10,"labelAlign":"right","labelPadding":47,"title":"δv/v (%)","titleAngle":270,"titlePadding":33}}}},
{"data":{"name":"eq"},"mark":{"type":"line","color":"black","strokeWidth":1.3},"encoding":{"x":{"field":"t","type":"quantitative","scale":{"domain":[2007.774,2022.264],"nice":false,"zero":false},"axis":null},"y":{"field":"v","type":"quantitative","scale":{"domain":[0,0.503],"range":[424,245],"nice":false,"zero":false},"axis":{"orient":"left","values":[0,0.2,0.4],"format":".1f","domain":true,"domainWidth":3,"domainColor":"black","tickSize":10,"labelPadding":8,"title":"eq rate (#/days)","titlePadding":16}}}},
{"data":{"name":"discharge"},"mark":{"type":"line","color":"#0000ff","strokeWidth":1},"encoding":{"x":{"field":"t","type":"quantitative","scale":{"domain":[2007.774,2022.264],"nice":false,"zero":false},"axis":null},"y":{"field":"v","type":"quantitative","scale":{"domain":[2.476,5.825],"range":[519,386.7],"nice":false,"zero":false},"axis":{"orient":"right","values":[3,4,5],"format":"d","domain":true,"domainWidth":3,"domainColor":"black","tickSize":10,"labelPadding":10,"title":"discharge (m³/sec)","titleAngle":270,"titlePadding":31}}}},
{"data":{"values":[{"t":2018.9,"v":1.06,"l":"strain"}]},"mark":{"type":"text","align":"right","fontWeight":"bold","fontSize":14.7,"color":"#ff0000"},"encoding":{"x":{"field":"t","type":"quantitative","scale":{"domain":[2007.774,2022.264],"nice":false,"zero":false},"axis":null},"y":{"field":"v","type":"quantitative","scale":{"domain":[-2.515,2.909],"range":[194,15],"nice":false,"zero":false},"axis":{"orient":"left","values":[-2.5,-1.5,-0.5,0.5,1.5,2.5],"labels":false,"title":null,"tickSize":6}},"text":{"field":"l"}}},
{"data":{"values":[{"t":2017.77,"v":-0.07,"l":"δv/v"}]},"mark":{"type":"text","align":"right","fontWeight":"bold","fontSize":14,"color":"#00c000"},"encoding":{"x":{"field":"t","type":"quantitative","scale":{"domain":[2007.774,2022.264],"nice":false,"zero":false},"axis":null},"y":{"field":"v","type":"quantitative","scale":{"domain":[-0.255,0.29],"range":[144,324],"nice":false,"zero":false},"axis":{"orient":"right","values":[-0.1,0.1],"labels":false,"title":null,"tickSize":6}},"text":{"field":"l"}}},
{"data":{"values":[{"t":2018.9,"v":0.25,"l":"earthquake rate"}]},"mark":{"type":"text","align":"right","fontWeight":"bold","fontSize":14.7,"color":"black"},"encoding":{"x":{"field":"t","type":"quantitative","scale":{"domain":[2007.774,2022.264],"nice":false,"zero":false},"axis":null},"y":{"field":"v","type":"quantitative","scale":{"domain":[0,0.503],"range":[424,245],"nice":false,"zero":false},"axis":{"orient":"left","values":[0.1,0.3,0.5],"labels":false,"title":null,"tickSize":6}},"text":{"field":"l"}}},
{"data":{"values":[{"t":2018.9,"v":2.65,"l":"spring discharge"}]},"mark":{"type":"text","align":"right","fontWeight":"bold","fontSize":14.7,"color":"#0000ff"},"encoding":{"x":{"field":"t","type":"quantitative","scale":{"domain":[2007.774,2022.264],"nice":false,"zero":false},"axis":null},"y":{"field":"v","type":"quantitative","scale":{"domain":[2.476,5.825],"range":[519,386.7],"nice":false,"zero":false},"axis":null},"text":{"field":"l"}}},
{"data":{"values":[{"t":2007.43,"p":-0.15,"l":"c)"}]},"mark":{"type":"text","align":"left","fontSize":17,"color":"black"},"encoding":{"x":{"field":"t","type":"quantitative","scale":{"domain":[2007.774,2022.264],"nice":false,"zero":false},"axis":null},"y":{"field":"p","type":"quantitative","scale":{"domain":[0,1],"range":[532,31]},"axis":null},"text":{"field":"l"}}}
]},
{"width":384,"height":177,"resolve":{"axis":{"x":"independent","y":"independent"}},"layer":[
{"data":{"name":"frame"},"mark":{"type":"rect","fill":"#add8e6"},"encoding":{"x":{"field":"x0","type":"quantitative","scale":{"domain":[-50,50],"range":[59,295],"nice":false,"zero":false},"axis":null},"x2":{"field":"x1"},"y":{"field":"y0","type":"quantitative","scale":{"domain":[0,180],"nice":false,"zero":false},"axis":null},"y2":{"field":"y1"}}},
{"data":{"name":"histStrain"},"mark":{"type":"rect","stroke":"black","strokeWidth":1},"encoding":{"x":{"field":"f","type":"quantitative","scale":{"domain":[-50,50],"range":[59,295],"nice":false,"zero":false},"axis":{"orient":"top","values":[-50,-25,0,25,50],"labelExpr":"abs(datum.value)+'%'","tickSize":11,"labelPadding":5,"title":"Frequency","titlePadding":12}},"x2":{"datum":0},"y":{"field":"a0","type":"quantitative","scale":{"domain":[0,180],"nice":false,"zero":false},"axis":{"orient":"left","offset":-59,"values":[0,45,90,135,180],"tickSize":11,"labelPadding":10,"title":"Azimuth","titlePadding":14}},"y2":{"field":"a1"},"color":{"field":"s","type":"nominal","scale":{"domain":["c","e"],"range":["#0000ff","#ff0000"]},"legend":null}}},
{"data":{"values":[{"c":0}]},"mark":{"type":"rule","color":"black","strokeWidth":3},"encoding":{"x":{"field":"c","type":"quantitative","scale":{"domain":[-50,50],"range":[59,295],"nice":false,"zero":false},"axis":null}}},
{"data":{"name":"labelC"},"mark":{"type":"text","fontWeight":"bold","fontSize":14.5,"align":"left","color":"#0000ff"},"encoding":{"x":{"field":"x","type":"quantitative","scale":{"domain":[-50,50],"range":[59,295],"nice":false,"zero":false},"axis":null},"y":{"field":"y","type":"quantitative","scale":{"domain":[0,180],"nice":false,"zero":false},"axis":{"orient":"left","offset":-59,"values":[22.5,67.5,112.5,157.5],"labels":false,"title":null,"tickSize":6}},"text":{"field":"t"}}},
{"data":{"name":"labelE"},"mark":{"type":"text","fontWeight":"bold","fontSize":14.5,"align":"right","color":"#ff0000"},"encoding":{"x":{"field":"x","type":"quantitative","scale":{"domain":[-50,50],"range":[59,295],"nice":false,"zero":false},"axis":null},"y":{"field":"y","type":"quantitative","scale":{"domain":[0,180],"nice":false,"zero":false},"axis":null},"text":{"field":"t"}}},
{"data":{"values":[{"x":-41.5,"y":148.5,"t":"strain"}]},"mark":{"type":"text","align":"left","fontSize":22,"color":"black"},"encoding":{"x":{"field":"x","type":"quantitative","scale":{"domain":[-50,50],"range":[59,295],"nice":false,"zero":false},"axis":null},"y":{"field":"y","type":"quantitative","scale":{"domain":[0,180],"nice":false,"zero":false},"axis":{"orient":"right","offset":-89,"values":[22.5,67.5,112.5,157.5],"labels":false,"title":null,"tickSize":6}},"text":{"field":"t"}}},
{"data":{"name":"frame"},"mark":{"type":"rect","fill":null,"fillOpacity":0,"stroke":"black","strokeWidth":3.5},"encoding":{"x":{"field":"x0","type":"quantitative","scale":{"domain":[-50,50],"range":[59,295],"nice":false,"zero":false},"axis":{"orient":"bottom","values":[-50,-25,0,25,50],"labels":false,"tickSize":11,"title":null}},"x2":{"field":"x1"},"y":{"field":"y0","type":"quantitative","scale":{"domain":[0,180],"nice":false,"zero":false},"axis":{"orient":"right","offset":-89,"values":[0,45,90,135,180],"tickSize":11,"labelPadding":10,"title":"Azimuth","titleAngle":270,"titlePadding":34}},"y2":{"field":"y1"}}}
]},
{"width":384,"height":177,"resolve":{"axis":{"x":"independent","y":"independent"}},"layer":[
{"data":{"name":"frame"},"mark":{"type":"rect","fill":"#add8e6"},"encoding":{"x":{"field":"x0","type":"quantitative","scale":{"domain":[-50,50],"range":[59,295],"nice":false,"zero":false},"axis":null},"x2":{"field":"x1"},"y":{"field":"y0","type":"quantitative","scale":{"domain":[0,180],"nice":false,"zero":false},"axis":null},"y2":{"field":"y1"}}},
{"data":{"name":"histDvv"},"mark":{"type":"rect","stroke":"black","strokeWidth":1},"encoding":{"x":{"field":"f","type":"quantitative","scale":{"domain":[-50,50],"range":[59,295],"nice":false,"zero":false},"axis":{"orient":"top","values":[-50,-25,0,25,50],"labels":false,"tickSize":11,"title":null}},"x2":{"datum":0},"y":{"field":"a0","type":"quantitative","scale":{"domain":[0,180],"nice":false,"zero":false},"axis":{"orient":"left","offset":-59,"values":[0,45,90,135,180],"tickSize":11,"labelPadding":10,"title":"Azimuth","titlePadding":14}},"y2":{"field":"a1"},"color":{"field":"s","type":"nominal","scale":{"domain":["c","e"],"range":["#0000ff","#ff0000"]},"legend":null}}},
{"data":{"values":[{"c":0}]},"mark":{"type":"rule","color":"black","strokeWidth":3},"encoding":{"x":{"field":"c","type":"quantitative","scale":{"domain":[-50,50],"range":[59,295],"nice":false,"zero":false},"axis":null}}},
{"data":{"name":"labelC"},"mark":{"type":"text","fontWeight":"bold","fontSize":14.5,"align":"left","color":"#0000ff"},"encoding":{"x":{"field":"x","type":"quantitative","scale":{"domain":[-50,50],"range":[59,295],"nice":false,"zero":false},"axis":null},"y":{"field":"y","type":"quantitative","scale":{"domain":[0,180],"nice":false,"zero":false},"axis":{"orient":"left","offset":-59,"values":[22.5,67.5,112.5,157.5],"labels":false,"title":null,"tickSize":6}},"text":{"field":"t"}}},
{"data":{"name":"labelE"},"mark":{"type":"text","fontWeight":"bold","fontSize":14.5,"align":"right","color":"#ff0000"},"encoding":{"x":{"field":"x","type":"quantitative","scale":{"domain":[-50,50],"range":[59,295],"nice":false,"zero":false},"axis":null},"y":{"field":"y","type":"quantitative","scale":{"domain":[0,180],"nice":false,"zero":false},"axis":null},"text":{"field":"t"}}},
{"data":{"values":[{"x":-41.5,"y":148.5,"t":"δv/v"}]},"mark":{"type":"text","align":"left","fontSize":22,"color":"black"},"encoding":{"x":{"field":"x","type":"quantitative","scale":{"domain":[-50,50],"range":[59,295],"nice":false,"zero":false},"axis":null},"y":{"field":"y","type":"quantitative","scale":{"domain":[0,180],"nice":false,"zero":false},"axis":{"orient":"right","offset":-89,"values":[22.5,67.5,112.5,157.5],"labels":false,"title":null,"tickSize":6}},"text":{"field":"t"}}},
{"data":{"values":[{"x":-78.8,"y":-61,"t":"d)"}]},"mark":{"type":"text","align":"left","fontSize":17,"color":"black"},"encoding":{"x":{"field":"x","type":"quantitative","scale":{"domain":[-50,50],"range":[59,295],"nice":false,"zero":false},"axis":null},"y":{"field":"y","type":"quantitative","scale":{"domain":[0,180],"nice":false,"zero":false},"axis":null},"text":{"field":"t"}}},
{"data":{"name":"frame"},"mark":{"type":"rect","fill":null,"fillOpacity":0,"stroke":"black","strokeWidth":3.5},"encoding":{"x":{"field":"x0","type":"quantitative","scale":{"domain":[-50,50],"range":[59,295],"nice":false,"zero":false},"axis":{"orient":"bottom","values":[-50,-25,0,25,50],"labelExpr":"abs(datum.value)+'%'","tickSize":11,"labelPadding":7,"title":null}},"x2":{"field":"x1"},"y":{"field":"y0","type":"quantitative","scale":{"domain":[0,180],"nice":false,"zero":false},"axis":{"orient":"right","offset":-89,"values":[0,45,90,135,180],"tickSize":11,"labelPadding":10,"title":"Azimuth","titleAngle":270,"titlePadding":34}},"y2":{"field":"y1"}}}
]}
],"spacing":59,"bounds":"flush"}
],"spacing":15}
